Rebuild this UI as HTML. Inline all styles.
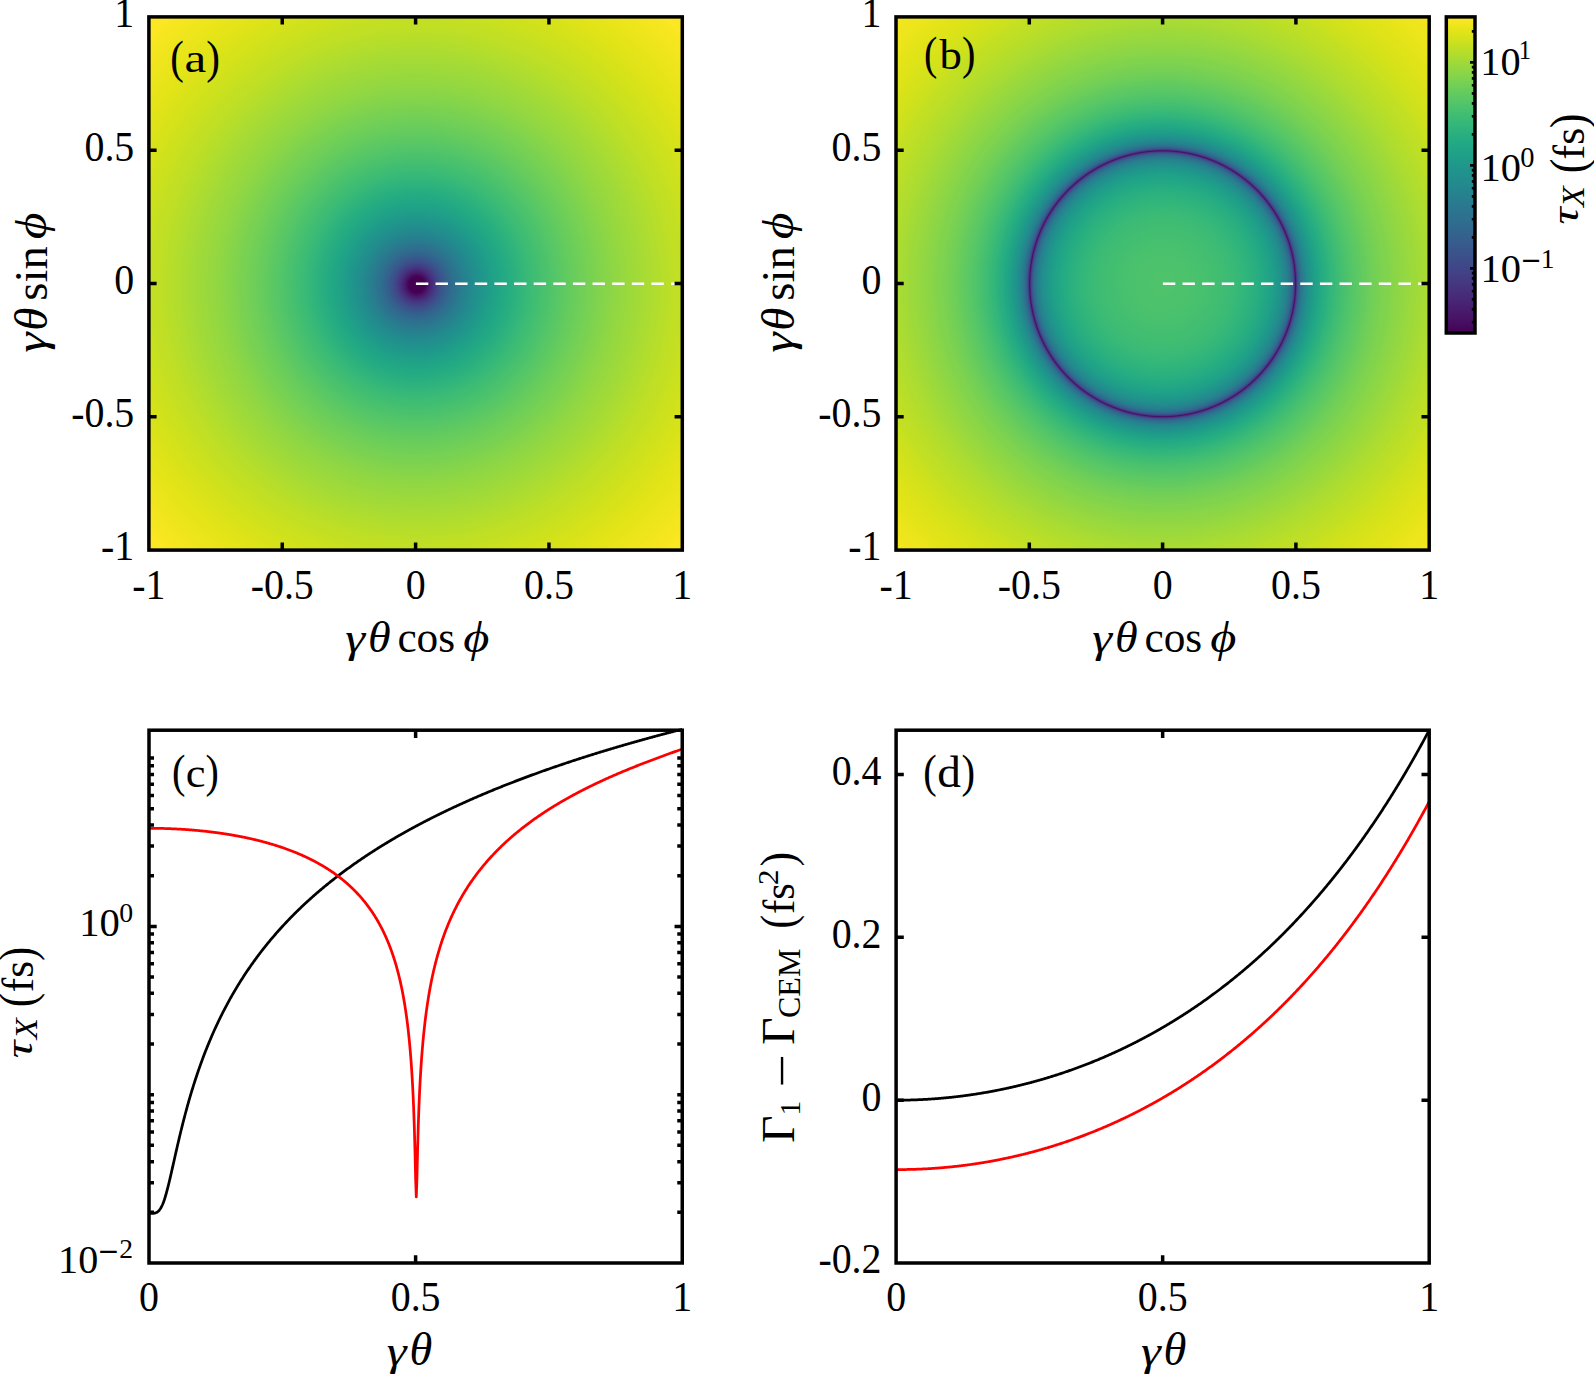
<!DOCTYPE html>
<html lang="en"><head><meta charset="utf-8"><title>Figure</title>
<style>html,body{margin:0;padding:0;background:#fff}svg{display:block}</style></head>
<body>
<svg width="1594" height="1374" viewBox="0 0 1594 1374">
<rect width="1594" height="1374" fill="#fff"/>
<defs>
<radialGradient id="ga" gradientUnits="userSpaceOnUse" cx="416.80" cy="284.70" r="386.71"><stop offset="0.00000" stop-color="#440154"/><stop offset="0.00172" stop-color="#440154"/><stop offset="0.00345" stop-color="#440154"/><stop offset="0.00517" stop-color="#440154"/><stop offset="0.00690" stop-color="#440154"/><stop offset="0.00862" stop-color="#440154"/><stop offset="0.01034" stop-color="#440154"/><stop offset="0.01207" stop-color="#440154"/><stop offset="0.01379" stop-color="#440154"/><stop offset="0.01552" stop-color="#440154"/><stop offset="0.01724" stop-color="#440154"/><stop offset="0.01897" stop-color="#440154"/><stop offset="0.02069" stop-color="#440256"/><stop offset="0.02241" stop-color="#450559"/><stop offset="0.02414" stop-color="#46085c"/><stop offset="0.02586" stop-color="#470d60"/><stop offset="0.02759" stop-color="#471164"/><stop offset="0.02931" stop-color="#481668"/><stop offset="0.03103" stop-color="#481a6c"/><stop offset="0.03276" stop-color="#481d6f"/><stop offset="0.03448" stop-color="#482173"/><stop offset="0.03621" stop-color="#482576"/><stop offset="0.03793" stop-color="#482878"/><stop offset="0.03966" stop-color="#472c7a"/><stop offset="0.04138" stop-color="#472f7d"/><stop offset="0.04310" stop-color="#46337f"/><stop offset="0.04483" stop-color="#453581"/><stop offset="0.04655" stop-color="#443983"/><stop offset="0.04828" stop-color="#443b84"/><stop offset="0.05000" stop-color="#423f85"/><stop offset="0.05172" stop-color="#424186"/><stop offset="0.05345" stop-color="#414487"/><stop offset="0.05517" stop-color="#404688"/><stop offset="0.05690" stop-color="#3e4989"/><stop offset="0.05862" stop-color="#3e4c8a"/><stop offset="0.06034" stop-color="#3d4e8a"/><stop offset="0.06207" stop-color="#3c508b"/><stop offset="0.06379" stop-color="#3b528b"/><stop offset="0.06552" stop-color="#3a548c"/><stop offset="0.06724" stop-color="#39558c"/><stop offset="0.06897" stop-color="#38588c"/><stop offset="0.07751" stop-color="#34618d"/><stop offset="0.08605" stop-color="#31688e"/><stop offset="0.09459" stop-color="#2e6f8e"/><stop offset="0.10313" stop-color="#2b748e"/><stop offset="0.11167" stop-color="#297a8e"/><stop offset="0.12022" stop-color="#277f8e"/><stop offset="0.12876" stop-color="#25838e"/><stop offset="0.13730" stop-color="#23888e"/><stop offset="0.14584" stop-color="#228c8d"/><stop offset="0.15438" stop-color="#21908d"/><stop offset="0.16292" stop-color="#20938c"/><stop offset="0.17146" stop-color="#1f978b"/><stop offset="0.18001" stop-color="#1f9a8a"/><stop offset="0.18855" stop-color="#1f9e89"/><stop offset="0.19709" stop-color="#1fa188"/><stop offset="0.20563" stop-color="#20a386"/><stop offset="0.21417" stop-color="#21a685"/><stop offset="0.22271" stop-color="#23a983"/><stop offset="0.23126" stop-color="#25ab82"/><stop offset="0.23980" stop-color="#27ad81"/><stop offset="0.24834" stop-color="#29af7f"/><stop offset="0.25688" stop-color="#2db27d"/><stop offset="0.26542" stop-color="#2fb47c"/><stop offset="0.27396" stop-color="#32b67a"/><stop offset="0.28251" stop-color="#37b878"/><stop offset="0.29105" stop-color="#3aba76"/><stop offset="0.29959" stop-color="#3dbc74"/><stop offset="0.30813" stop-color="#40bd72"/><stop offset="0.31667" stop-color="#44bf70"/><stop offset="0.32521" stop-color="#48c16e"/><stop offset="0.33376" stop-color="#4ac16d"/><stop offset="0.34230" stop-color="#4ec36b"/><stop offset="0.35084" stop-color="#52c569"/><stop offset="0.35938" stop-color="#56c667"/><stop offset="0.36792" stop-color="#58c765"/><stop offset="0.37646" stop-color="#5cc863"/><stop offset="0.38500" stop-color="#60ca60"/><stop offset="0.39355" stop-color="#63cb5f"/><stop offset="0.40209" stop-color="#67cc5c"/><stop offset="0.41063" stop-color="#69cd5b"/><stop offset="0.41917" stop-color="#6ece58"/><stop offset="0.42771" stop-color="#70cf57"/><stop offset="0.43625" stop-color="#73d056"/><stop offset="0.44480" stop-color="#77d153"/><stop offset="0.45334" stop-color="#7ad151"/><stop offset="0.46188" stop-color="#7cd250"/><stop offset="0.47042" stop-color="#81d34d"/><stop offset="0.47896" stop-color="#84d44b"/><stop offset="0.48750" stop-color="#86d549"/><stop offset="0.49605" stop-color="#89d548"/><stop offset="0.50459" stop-color="#8ed645"/><stop offset="0.51313" stop-color="#90d743"/><stop offset="0.52167" stop-color="#93d741"/><stop offset="0.53021" stop-color="#95d840"/><stop offset="0.53875" stop-color="#98d83e"/><stop offset="0.54730" stop-color="#9bd93c"/><stop offset="0.55584" stop-color="#9dd93b"/><stop offset="0.56438" stop-color="#a0da39"/><stop offset="0.57292" stop-color="#a2da37"/><stop offset="0.58146" stop-color="#a5db36"/><stop offset="0.59000" stop-color="#a8db34"/><stop offset="0.59854" stop-color="#aadc32"/><stop offset="0.60709" stop-color="#addc30"/><stop offset="0.61563" stop-color="#b0dd2f"/><stop offset="0.62417" stop-color="#b2dd2d"/><stop offset="0.63271" stop-color="#b5de2b"/><stop offset="0.64125" stop-color="#b8de29"/><stop offset="0.64979" stop-color="#bade28"/><stop offset="0.65834" stop-color="#bddf26"/><stop offset="0.66688" stop-color="#c0df25"/><stop offset="0.67542" stop-color="#c2df23"/><stop offset="0.68396" stop-color="#c2df23"/><stop offset="0.69250" stop-color="#c5e021"/><stop offset="0.70104" stop-color="#c8e020"/><stop offset="0.70959" stop-color="#cae11f"/><stop offset="0.71813" stop-color="#cde11d"/><stop offset="0.72667" stop-color="#cde11d"/><stop offset="0.73521" stop-color="#d0e11c"/><stop offset="0.74375" stop-color="#d2e21b"/><stop offset="0.75229" stop-color="#d5e21a"/><stop offset="0.76084" stop-color="#d8e219"/><stop offset="0.76938" stop-color="#d8e219"/><stop offset="0.77792" stop-color="#dae319"/><stop offset="0.78646" stop-color="#dde318"/><stop offset="0.79500" stop-color="#dfe318"/><stop offset="0.80354" stop-color="#dfe318"/><stop offset="0.81208" stop-color="#e2e418"/><stop offset="0.82063" stop-color="#e5e419"/><stop offset="0.82917" stop-color="#e5e419"/><stop offset="0.83771" stop-color="#e7e419"/><stop offset="0.84625" stop-color="#eae51a"/><stop offset="0.85479" stop-color="#eae51a"/><stop offset="0.86333" stop-color="#ece51b"/><stop offset="0.87188" stop-color="#efe51c"/><stop offset="0.88042" stop-color="#efe51c"/><stop offset="0.88896" stop-color="#f1e51d"/><stop offset="0.89750" stop-color="#f4e61e"/><stop offset="0.90604" stop-color="#f4e61e"/><stop offset="0.91458" stop-color="#f6e620"/><stop offset="0.92313" stop-color="#f6e620"/><stop offset="0.93167" stop-color="#f8e621"/><stop offset="0.94021" stop-color="#fbe723"/><stop offset="0.94875" stop-color="#fbe723"/><stop offset="0.95729" stop-color="#fde725"/><stop offset="0.96583" stop-color="#fde725"/><stop offset="0.97438" stop-color="#fde725"/><stop offset="0.98292" stop-color="#fde725"/><stop offset="0.99146" stop-color="#fde725"/><stop offset="1.00000" stop-color="#fde725"/></radialGradient>
<radialGradient id="gb" gradientUnits="userSpaceOnUse" cx="1162.60" cy="283.75" r="386.57"><stop offset="0.00000" stop-color="#4ec36b"/><stop offset="0.00951" stop-color="#4ec36b"/><stop offset="0.01902" stop-color="#4ec36b"/><stop offset="0.02854" stop-color="#4ec36b"/><stop offset="0.03805" stop-color="#4cc26c"/><stop offset="0.04756" stop-color="#4cc26c"/><stop offset="0.05707" stop-color="#4cc26c"/><stop offset="0.06659" stop-color="#4cc26c"/><stop offset="0.07610" stop-color="#4ac16d"/><stop offset="0.08561" stop-color="#4ac16d"/><stop offset="0.09512" stop-color="#48c16e"/><stop offset="0.10464" stop-color="#48c16e"/><stop offset="0.11415" stop-color="#46c06f"/><stop offset="0.12366" stop-color="#44bf70"/><stop offset="0.13317" stop-color="#42be71"/><stop offset="0.14269" stop-color="#42be71"/><stop offset="0.15220" stop-color="#40bd72"/><stop offset="0.16171" stop-color="#3fbc73"/><stop offset="0.17122" stop-color="#3bbb75"/><stop offset="0.18074" stop-color="#3aba76"/><stop offset="0.19025" stop-color="#38b977"/><stop offset="0.19976" stop-color="#35b779"/><stop offset="0.20927" stop-color="#32b67a"/><stop offset="0.21879" stop-color="#2fb47c"/><stop offset="0.22830" stop-color="#2db27d"/><stop offset="0.23781" stop-color="#2ab07f"/><stop offset="0.24732" stop-color="#27ad81"/><stop offset="0.25684" stop-color="#25ab82"/><stop offset="0.26635" stop-color="#22a785"/><stop offset="0.27586" stop-color="#20a386"/><stop offset="0.27931" stop-color="#1fa287"/><stop offset="0.28276" stop-color="#1fa188"/><stop offset="0.28621" stop-color="#1f9f88"/><stop offset="0.28966" stop-color="#1e9d89"/><stop offset="0.29310" stop-color="#1e9b8a"/><stop offset="0.29655" stop-color="#1f988b"/><stop offset="0.30000" stop-color="#1f968b"/><stop offset="0.30345" stop-color="#20938c"/><stop offset="0.30690" stop-color="#21918c"/><stop offset="0.31034" stop-color="#218e8d"/><stop offset="0.31379" stop-color="#238a8d"/><stop offset="0.31724" stop-color="#24868e"/><stop offset="0.32069" stop-color="#26828e"/><stop offset="0.32414" stop-color="#287d8e"/><stop offset="0.32483" stop-color="#297b8e"/><stop offset="0.32552" stop-color="#297a8e"/><stop offset="0.32621" stop-color="#29798e"/><stop offset="0.32690" stop-color="#2a778e"/><stop offset="0.32759" stop-color="#2a768e"/><stop offset="0.32828" stop-color="#2b748e"/><stop offset="0.32897" stop-color="#2c738e"/><stop offset="0.32966" stop-color="#2c718e"/><stop offset="0.33034" stop-color="#2d708e"/><stop offset="0.33103" stop-color="#2e6f8e"/><stop offset="0.33172" stop-color="#2e6d8e"/><stop offset="0.33241" stop-color="#2f6b8e"/><stop offset="0.33310" stop-color="#31688e"/><stop offset="0.33379" stop-color="#31668e"/><stop offset="0.33448" stop-color="#32648e"/><stop offset="0.33517" stop-color="#34618d"/><stop offset="0.33586" stop-color="#355e8d"/><stop offset="0.33655" stop-color="#375b8d"/><stop offset="0.33724" stop-color="#38588c"/><stop offset="0.33793" stop-color="#3a538b"/><stop offset="0.33862" stop-color="#3c4f8a"/><stop offset="0.33931" stop-color="#3e4989"/><stop offset="0.34000" stop-color="#414487"/><stop offset="0.34069" stop-color="#433d84"/><stop offset="0.34138" stop-color="#463480"/><stop offset="0.34207" stop-color="#472a7a"/><stop offset="0.34276" stop-color="#481f70"/><stop offset="0.34345" stop-color="#481467"/><stop offset="0.34414" stop-color="#471164"/><stop offset="0.34483" stop-color="#481a6c"/><stop offset="0.34552" stop-color="#482576"/><stop offset="0.34621" stop-color="#46307e"/><stop offset="0.34690" stop-color="#443983"/><stop offset="0.34759" stop-color="#424186"/><stop offset="0.34828" stop-color="#3f4889"/><stop offset="0.34897" stop-color="#3d4e8a"/><stop offset="0.34966" stop-color="#3b528b"/><stop offset="0.35034" stop-color="#39568c"/><stop offset="0.35103" stop-color="#375b8d"/><stop offset="0.35172" stop-color="#355e8d"/><stop offset="0.35241" stop-color="#34618d"/><stop offset="0.35310" stop-color="#32648e"/><stop offset="0.35379" stop-color="#31668e"/><stop offset="0.35448" stop-color="#30698e"/><stop offset="0.35517" stop-color="#2f6b8e"/><stop offset="0.35586" stop-color="#2e6d8e"/><stop offset="0.35655" stop-color="#2e6f8e"/><stop offset="0.35724" stop-color="#2d718e"/><stop offset="0.35793" stop-color="#2c728e"/><stop offset="0.35862" stop-color="#2b748e"/><stop offset="0.35931" stop-color="#2b758e"/><stop offset="0.36000" stop-color="#2a778e"/><stop offset="0.36069" stop-color="#29798e"/><stop offset="0.36138" stop-color="#297a8e"/><stop offset="0.36207" stop-color="#287c8e"/><stop offset="0.36276" stop-color="#287d8e"/><stop offset="0.36345" stop-color="#277e8e"/><stop offset="0.36414" stop-color="#27808e"/><stop offset="0.36483" stop-color="#26818e"/><stop offset="0.36552" stop-color="#26828e"/><stop offset="0.36897" stop-color="#24878e"/><stop offset="0.37241" stop-color="#228b8d"/><stop offset="0.37586" stop-color="#21908d"/><stop offset="0.37931" stop-color="#20938c"/><stop offset="0.38276" stop-color="#1f968b"/><stop offset="0.38621" stop-color="#1f998a"/><stop offset="0.38966" stop-color="#1e9c89"/><stop offset="0.39310" stop-color="#1f9f88"/><stop offset="0.39655" stop-color="#1fa187"/><stop offset="0.40000" stop-color="#20a386"/><stop offset="0.40345" stop-color="#21a685"/><stop offset="0.40690" stop-color="#22a884"/><stop offset="0.41034" stop-color="#24aa83"/><stop offset="0.41379" stop-color="#25ac82"/><stop offset="0.42373" stop-color="#2ab07f"/><stop offset="0.43366" stop-color="#31b57b"/><stop offset="0.44360" stop-color="#37b878"/><stop offset="0.45354" stop-color="#3dbc74"/><stop offset="0.46347" stop-color="#44bf70"/><stop offset="0.47341" stop-color="#4ac16d"/><stop offset="0.48334" stop-color="#50c46a"/><stop offset="0.49328" stop-color="#56c667"/><stop offset="0.50321" stop-color="#5ac864"/><stop offset="0.51315" stop-color="#60ca60"/><stop offset="0.52309" stop-color="#65cb5e"/><stop offset="0.53302" stop-color="#6ccd5a"/><stop offset="0.54296" stop-color="#70cf57"/><stop offset="0.55289" stop-color="#75d054"/><stop offset="0.56283" stop-color="#7ad151"/><stop offset="0.57276" stop-color="#7fd34e"/><stop offset="0.58270" stop-color="#81d34d"/><stop offset="0.59264" stop-color="#86d549"/><stop offset="0.60257" stop-color="#8bd646"/><stop offset="0.61251" stop-color="#8ed645"/><stop offset="0.62244" stop-color="#93d741"/><stop offset="0.63238" stop-color="#95d840"/><stop offset="0.64231" stop-color="#9bd93c"/><stop offset="0.65225" stop-color="#9dd93b"/><stop offset="0.66219" stop-color="#a2da37"/><stop offset="0.67212" stop-color="#a5db36"/><stop offset="0.68206" stop-color="#aadc32"/><stop offset="0.69199" stop-color="#addc30"/><stop offset="0.70193" stop-color="#b0dd2f"/><stop offset="0.71186" stop-color="#b2dd2d"/><stop offset="0.72180" stop-color="#b8de29"/><stop offset="0.73174" stop-color="#bade28"/><stop offset="0.74167" stop-color="#bddf26"/><stop offset="0.75161" stop-color="#c0df25"/><stop offset="0.76154" stop-color="#c2df23"/><stop offset="0.77148" stop-color="#c5e021"/><stop offset="0.78141" stop-color="#cae11f"/><stop offset="0.79135" stop-color="#cde11d"/><stop offset="0.80129" stop-color="#d0e11c"/><stop offset="0.81122" stop-color="#d2e21b"/><stop offset="0.82116" stop-color="#d5e21a"/><stop offset="0.83109" stop-color="#d8e219"/><stop offset="0.84103" stop-color="#dae319"/><stop offset="0.85096" stop-color="#dde318"/><stop offset="0.86090" stop-color="#dfe318"/><stop offset="0.87084" stop-color="#dfe318"/><stop offset="0.88077" stop-color="#e2e418"/><stop offset="0.89071" stop-color="#e5e419"/><stop offset="0.90064" stop-color="#e7e419"/><stop offset="0.91058" stop-color="#eae51a"/><stop offset="0.92051" stop-color="#ece51b"/><stop offset="0.93045" stop-color="#efe51c"/><stop offset="0.94039" stop-color="#efe51c"/><stop offset="0.95032" stop-color="#f1e51d"/><stop offset="0.96026" stop-color="#f4e61e"/><stop offset="0.97019" stop-color="#f6e620"/><stop offset="0.98013" stop-color="#f8e621"/><stop offset="0.99006" stop-color="#f8e621"/><stop offset="1.00000" stop-color="#fbe723"/></radialGradient>
<linearGradient id="gc" x1="0" y1="1" x2="0" y2="0"><stop offset="0.0000" stop-color="#440154"/><stop offset="0.0156" stop-color="#46075a"/><stop offset="0.0312" stop-color="#470d60"/><stop offset="0.0469" stop-color="#471365"/><stop offset="0.0625" stop-color="#48186a"/><stop offset="0.0781" stop-color="#481d6f"/><stop offset="0.0938" stop-color="#482374"/><stop offset="0.1094" stop-color="#482878"/><stop offset="0.1250" stop-color="#472d7b"/><stop offset="0.1406" stop-color="#46327e"/><stop offset="0.1562" stop-color="#453781"/><stop offset="0.1719" stop-color="#443b84"/><stop offset="0.1875" stop-color="#424086"/><stop offset="0.2031" stop-color="#404588"/><stop offset="0.2188" stop-color="#3e4989"/><stop offset="0.2344" stop-color="#3d4e8a"/><stop offset="0.2500" stop-color="#3b528b"/><stop offset="0.2656" stop-color="#39568c"/><stop offset="0.2812" stop-color="#375b8d"/><stop offset="0.2969" stop-color="#355f8d"/><stop offset="0.3125" stop-color="#33638d"/><stop offset="0.3281" stop-color="#31678e"/><stop offset="0.3438" stop-color="#2f6b8e"/><stop offset="0.3594" stop-color="#2e6f8e"/><stop offset="0.3750" stop-color="#2c728e"/><stop offset="0.3906" stop-color="#2a768e"/><stop offset="0.4062" stop-color="#297a8e"/><stop offset="0.4219" stop-color="#277e8e"/><stop offset="0.4375" stop-color="#26828e"/><stop offset="0.4531" stop-color="#25858e"/><stop offset="0.4688" stop-color="#23898e"/><stop offset="0.4844" stop-color="#228d8d"/><stop offset="0.5000" stop-color="#21918c"/><stop offset="0.5156" stop-color="#1f948c"/><stop offset="0.5312" stop-color="#1f988b"/><stop offset="0.5469" stop-color="#1e9c89"/><stop offset="0.5625" stop-color="#1fa088"/><stop offset="0.5781" stop-color="#20a386"/><stop offset="0.5938" stop-color="#22a785"/><stop offset="0.6094" stop-color="#25ab82"/><stop offset="0.6250" stop-color="#28ae80"/><stop offset="0.6406" stop-color="#2db27d"/><stop offset="0.6562" stop-color="#32b67a"/><stop offset="0.6719" stop-color="#38b977"/><stop offset="0.6875" stop-color="#3fbc73"/><stop offset="0.7031" stop-color="#46c06f"/><stop offset="0.7188" stop-color="#4ec36b"/><stop offset="0.7344" stop-color="#56c667"/><stop offset="0.7500" stop-color="#5ec962"/><stop offset="0.7656" stop-color="#67cc5c"/><stop offset="0.7812" stop-color="#70cf57"/><stop offset="0.7969" stop-color="#7ad151"/><stop offset="0.8125" stop-color="#84d44b"/><stop offset="0.8281" stop-color="#8ed645"/><stop offset="0.8438" stop-color="#98d83e"/><stop offset="0.8594" stop-color="#a2da37"/><stop offset="0.8750" stop-color="#addc30"/><stop offset="0.8906" stop-color="#b8de29"/><stop offset="0.9062" stop-color="#c2df23"/><stop offset="0.9219" stop-color="#cde11d"/><stop offset="0.9375" stop-color="#d8e219"/><stop offset="0.9531" stop-color="#e2e418"/><stop offset="0.9688" stop-color="#ece51b"/><stop offset="0.9844" stop-color="#f6e620"/><stop offset="1.0000" stop-color="#fde725"/></linearGradient>
</defs>
<rect x="148.9" y="16.9" width="533.40" height="533.20" fill="url(#ga)"/>
<path d="M415.90 283.70H682.3" stroke="#fff" stroke-width="2.5" stroke-dasharray="12.4 7.23" fill="none"/>
<rect x="148.9" y="16.9" width="533.40" height="533.20" fill="none" stroke="#000" stroke-width="3.5"/>
<path d="M282.25 550.1v-7.7M282.25 16.9v7.7M415.60 550.1v-7.7M415.60 16.9v7.7M548.95 550.1v-7.7M548.95 16.9v7.7" stroke="#000" stroke-width="3.5" fill="none"/>
<path d="M148.9 150.20h7.7M682.3 150.20h-7.7M148.9 283.50h7.7M682.3 283.50h-7.7M148.9 416.80h7.7M682.3 416.80h-7.7" stroke="#000" stroke-width="3.5" fill="none"/>
<text transform="translate(148.90 598.50) scale(0.963 1)" font-size="41.4" text-anchor="middle" font-family="Liberation Serif, serif" >-1</text>
<text transform="translate(282.25 598.50) scale(0.963 1)" font-size="41.4" text-anchor="middle" font-family="Liberation Serif, serif" >-0.5</text>
<text transform="translate(415.60 598.50) scale(0.963 1)" font-size="41.4" text-anchor="middle" font-family="Liberation Serif, serif" >0</text>
<text transform="translate(548.95 598.50) scale(0.963 1)" font-size="41.4" text-anchor="middle" font-family="Liberation Serif, serif" >0.5</text>
<text transform="translate(682.30 598.50) scale(0.963 1)" font-size="41.4" text-anchor="middle" font-family="Liberation Serif, serif" >1</text>
<text transform="translate(134.30 27.20) scale(0.963 1)" font-size="41.4" text-anchor="end" font-family="Liberation Serif, serif" >1</text>
<text transform="translate(134.30 160.50) scale(0.963 1)" font-size="41.4" text-anchor="end" font-family="Liberation Serif, serif" >0.5</text>
<text transform="translate(134.30 293.80) scale(0.963 1)" font-size="41.4" text-anchor="end" font-family="Liberation Serif, serif" >0</text>
<text transform="translate(134.30 427.10) scale(0.963 1)" font-size="41.4" text-anchor="end" font-family="Liberation Serif, serif" >-0.5</text>
<text transform="translate(134.30 560.40) scale(0.963 1)" font-size="41.4" text-anchor="end" font-family="Liberation Serif, serif" >-1</text>
<text transform="translate(345.16 651.87) scale(1.1700 1)" font-size="42.97" font-style="italic" font-family="Liberation Serif, serif">γ</text>
<text transform="translate(368.01 652.05) scale(1.0378 1)" font-size="44.51" font-style="italic" font-family="Liberation Serif, serif">θ</text>
<text transform="translate(397.38 652.06) scale(0.9905 1)" font-size="43.75" font-family="Liberation Serif, serif">cos</text>
<text transform="translate(463.17 651.61) scale(1.1399 1)" font-size="44.19" font-style="italic" font-family="Liberation Serif, serif">ϕ</text>
<text transform="translate(46.32 352.79) rotate(-90) scale(1.1700 1)" font-size="44.16" font-style="italic" font-family="Liberation Serif, serif">γ</text>
<text transform="translate(46.84 330.74) rotate(-90) scale(1.0331 1)" font-size="45.63" font-style="italic" font-family="Liberation Serif, serif">θ</text>
<text transform="translate(46.74 300.67) rotate(-90) scale(1.0253 1)" font-size="45.50" font-family="Liberation Serif, serif">sin</text>
<text transform="translate(46.29 239.37) rotate(-90) scale(1.1705 1)" font-size="44.30" font-style="italic" font-family="Liberation Serif, serif">ϕ</text>
<rect x="896.0" y="16.9" width="533.20" height="533.20" fill="url(#gb)"/>
<path d="M1162.90 283.70H1429.2" stroke="#fff" stroke-width="2.5" stroke-dasharray="12.4 7.23" fill="none"/>
<rect x="896.0" y="16.9" width="533.20" height="533.20" fill="none" stroke="#000" stroke-width="3.5"/>
<path d="M1029.30 550.1v-7.7M1029.30 16.9v7.7M1162.60 550.1v-7.7M1162.60 16.9v7.7M1295.90 550.1v-7.7M1295.90 16.9v7.7" stroke="#000" stroke-width="3.5" fill="none"/>
<path d="M896.0 150.20h7.7M1429.2 150.20h-7.7M896.0 283.50h7.7M1429.2 283.50h-7.7M896.0 416.80h7.7M1429.2 416.80h-7.7" stroke="#000" stroke-width="3.5" fill="none"/>
<text transform="translate(896.00 598.50) scale(0.963 1)" font-size="41.4" text-anchor="middle" font-family="Liberation Serif, serif" >-1</text>
<text transform="translate(1029.30 598.50) scale(0.963 1)" font-size="41.4" text-anchor="middle" font-family="Liberation Serif, serif" >-0.5</text>
<text transform="translate(1162.60 598.50) scale(0.963 1)" font-size="41.4" text-anchor="middle" font-family="Liberation Serif, serif" >0</text>
<text transform="translate(1295.90 598.50) scale(0.963 1)" font-size="41.4" text-anchor="middle" font-family="Liberation Serif, serif" >0.5</text>
<text transform="translate(1429.20 598.50) scale(0.963 1)" font-size="41.4" text-anchor="middle" font-family="Liberation Serif, serif" >1</text>
<text transform="translate(881.40 27.20) scale(0.963 1)" font-size="41.4" text-anchor="end" font-family="Liberation Serif, serif" >1</text>
<text transform="translate(881.40 160.50) scale(0.963 1)" font-size="41.4" text-anchor="end" font-family="Liberation Serif, serif" >0.5</text>
<text transform="translate(881.40 293.80) scale(0.963 1)" font-size="41.4" text-anchor="end" font-family="Liberation Serif, serif" >0</text>
<text transform="translate(881.40 427.10) scale(0.963 1)" font-size="41.4" text-anchor="end" font-family="Liberation Serif, serif" >-0.5</text>
<text transform="translate(881.40 560.40) scale(0.963 1)" font-size="41.4" text-anchor="end" font-family="Liberation Serif, serif" >-1</text>
<text transform="translate(1092.26 651.87) scale(1.1700 1)" font-size="42.97" font-style="italic" font-family="Liberation Serif, serif">γ</text>
<text transform="translate(1115.11 652.05) scale(1.0378 1)" font-size="44.51" font-style="italic" font-family="Liberation Serif, serif">θ</text>
<text transform="translate(1144.47 652.06) scale(0.9905 1)" font-size="43.75" font-family="Liberation Serif, serif">cos</text>
<text transform="translate(1210.27 651.61) scale(1.1399 1)" font-size="44.19" font-style="italic" font-family="Liberation Serif, serif">ϕ</text>
<text transform="translate(793.42 352.79) rotate(-90) scale(1.1700 1)" font-size="44.16" font-style="italic" font-family="Liberation Serif, serif">γ</text>
<text transform="translate(793.94 330.74) rotate(-90) scale(1.0331 1)" font-size="45.63" font-style="italic" font-family="Liberation Serif, serif">θ</text>
<text transform="translate(793.84 300.67) rotate(-90) scale(1.0253 1)" font-size="45.50" font-family="Liberation Serif, serif">sin</text>
<text transform="translate(793.39 239.37) rotate(-90) scale(1.1705 1)" font-size="44.30" font-style="italic" font-family="Liberation Serif, serif">ϕ</text>
<text transform="translate(170.27 72.92) scale(0.8769 1)" font-size="46.50" font-family="Liberation Serif, serif">(</text>
<text transform="translate(184.49 72.40) scale(1.2089 1)" font-size="40.42" font-family="Liberation Serif, serif">a</text>
<text transform="translate(206.16 72.92) scale(0.8852 1)" font-size="46.50" font-family="Liberation Serif, serif">)</text>
<text transform="translate(924.00 68.87) scale(0.8643 1)" font-size="46.28" font-family="Liberation Serif, serif">(</text>
<text transform="translate(939.50 68.57) scale(1.0483 1)" font-size="42.70" font-family="Liberation Serif, serif">b</text>
<text transform="translate(961.89 68.87) scale(0.8727 1)" font-size="46.28" font-family="Liberation Serif, serif">)</text>
<text transform="translate(171.98 787.32) scale(0.8685 1)" font-size="46.50" font-family="Liberation Serif, serif">(</text>
<text transform="translate(185.63 787.19) scale(1.0742 1)" font-size="41.46" font-family="Liberation Serif, serif">c</text>
<text transform="translate(205.60 787.32) scale(0.8602 1)" font-size="46.50" font-family="Liberation Serif, serif">)</text>
<text transform="translate(923.28 786.57) scale(0.8644 1)" font-size="46.72" font-family="Liberation Serif, serif">(</text>
<text transform="translate(937.14 786.57) scale(1.0932 1)" font-size="43.26" font-family="Liberation Serif, serif">d</text>
<text transform="translate(961.47 786.57) scale(0.8728 1)" font-size="46.72" font-family="Liberation Serif, serif">)</text>
<rect x="1446.3" y="16.9" width="28.70" height="316.10" fill="url(#gc)"/>
<path d="M1475.0 322.26h-3.2M1475.0 309.39h-3.2M1475.0 299.41h-3.2M1475.0 291.25h-3.2M1475.0 284.35h-3.2M1475.0 278.38h-3.2M1475.0 273.11h-3.2M1475.0 268.40h-5.0M1475.0 237.39h-3.2M1475.0 219.26h-3.2M1475.0 206.39h-3.2M1475.0 196.41h-3.2M1475.0 188.25h-3.2M1475.0 181.35h-3.2M1475.0 175.38h-3.2M1475.0 170.11h-3.2M1475.0 165.40h-5.0M1475.0 134.39h-3.2M1475.0 116.26h-3.2M1475.0 103.39h-3.2M1475.0 93.41h-3.2M1475.0 85.25h-3.2M1475.0 78.35h-3.2M1475.0 72.38h-3.2M1475.0 67.11h-3.2M1475.0 62.40h-5.0M1475.0 31.39h-3.2" stroke="#000" stroke-width="2.6" fill="none"/>
<rect x="1446.3" y="16.9" width="28.70" height="316.10" fill="none" stroke="#000" stroke-width="3.5"/>
<text transform="translate(1480.37 75.10) scale(1.0199 1)" font-size="39.56" font-family="Liberation Serif, serif">10</text>
<text transform="translate(1518.74 59.00) scale(0.9203 1)" font-size="26.82" font-family="Liberation Serif, serif">1</text>
<text transform="translate(1480.46 181.20) scale(1.0077 1)" font-size="40.15" font-family="Liberation Serif, serif">10</text>
<text transform="translate(1520.23 167.02) scale(1.0009 1)" font-size="28.44" font-family="Liberation Serif, serif">0</text>
<text transform="translate(1480.45 281.80) scale(1.0143 1)" font-size="40.00" font-family="Liberation Serif, serif">10</text>
<text transform="translate(1521.38 275.99) scale(0.7480 1)" font-size="46.00" font-family="Liberation Serif, serif">−</text>
<text transform="translate(1540.79 267.60) scale(1.0378 1)" font-size="26.52" font-family="Liberation Serif, serif">1</text>
<text transform="translate(1578.42 224.46) rotate(-90) scale(1.2700 1)" font-size="37.87" font-style="italic" font-family="Liberation Serif, serif">τ</text>
<text transform="translate(1583.90 206.90) rotate(-90) scale(1.0893 1)" font-size="31.15" font-style="italic" font-family="Liberation Serif, serif">X</text>
<text transform="translate(1584.88 173.18) rotate(-90) scale(0.8772 1)" font-size="50.47" font-family="Liberation Serif, serif">(</text>
<text transform="translate(1583.75 159.41) rotate(-90) scale(0.9636 1)" font-size="45.31" font-family="Liberation Serif, serif">fs</text>
<text transform="translate(1584.88 128.14) rotate(-90) scale(0.8772 1)" font-size="50.47" font-family="Liberation Serif, serif">)</text>
<clipPath id="cc"><rect x="149.0" y="728.2" width="533.25" height="534.80"/></clipPath>
<g clip-path="url(#cc)" fill="none" stroke-width="2.75" stroke-linejoin="round">
<path d="M149.00 1213.44L149.67 1213.44L150.33 1213.44L151.00 1213.44L151.67 1213.43L152.33 1213.41L153.00 1213.37L153.67 1213.30L154.33 1213.20L155.00 1213.06L155.67 1212.85L156.33 1212.58L157.00 1212.23L157.67 1211.79L158.33 1211.23L159.00 1210.56L159.66 1209.75L160.33 1208.80L161.00 1207.70L161.66 1206.44L162.33 1205.01L163.00 1203.42L163.66 1201.68L164.33 1199.77L165.00 1197.71L165.66 1195.51L166.33 1193.18L167.00 1190.73L167.66 1188.17L168.33 1185.52L169.00 1182.79L169.66 1179.99L170.33 1177.14L171.00 1174.25L171.66 1171.32L172.33 1168.37L173.00 1165.40L173.66 1162.43L174.33 1159.46L175.00 1156.50L175.66 1153.54L176.33 1150.61L177.00 1147.69L177.66 1144.80L178.33 1141.94L179.00 1139.10L179.66 1136.29L180.33 1133.51L181.00 1130.77L181.66 1128.06L182.33 1125.38L182.99 1122.74L183.66 1120.13L184.33 1117.56L184.99 1115.02L185.66 1112.51L186.33 1110.04L186.99 1107.60L187.66 1105.20L188.33 1102.82L188.99 1100.48L189.66 1098.17L190.33 1095.90L190.99 1093.65L191.66 1091.43L192.33 1089.25L192.99 1087.09L193.66 1084.96L194.33 1082.86L194.99 1080.78L195.66 1078.73L196.33 1076.71L196.99 1074.72L197.66 1072.74L198.33 1070.80L198.99 1068.88L199.66 1066.98L200.33 1065.10L200.99 1063.25L201.66 1061.42L202.32 1059.61L202.99 1057.82L203.66 1056.05L204.32 1054.31L204.99 1052.58L205.66 1050.87L206.32 1049.18L206.99 1047.51L207.66 1045.86L208.32 1044.23L208.99 1042.61L209.66 1041.01L210.32 1039.43L210.99 1037.87L211.66 1036.32L212.32 1034.78L212.99 1033.27L213.66 1031.76L214.32 1030.28L214.99 1028.80L215.66 1027.35L216.32 1025.90L216.99 1024.47L217.66 1023.06L218.32 1021.65L218.99 1020.26L219.66 1018.89L220.32 1017.52L220.99 1016.17L221.66 1014.83L222.32 1013.51L222.99 1012.19L223.66 1010.89L224.32 1009.60L224.99 1008.31L225.65 1007.04L226.32 1005.79L226.99 1004.54L227.65 1003.30L228.32 1002.07L228.99 1000.85L229.65 999.65L230.32 998.45L230.99 997.26L231.65 996.08L232.32 994.92L232.99 993.76L233.65 992.61L234.32 991.46L234.99 990.33L235.65 989.21L236.32 988.09L236.99 986.99L237.65 985.89L238.32 984.80L238.99 983.72L239.65 982.64L240.32 981.58L240.99 980.52L241.65 979.47L242.32 978.42L242.99 977.39L243.65 976.36L244.32 975.34L244.99 974.32L245.65 973.31L246.32 972.31L246.98 971.32L247.65 970.33L248.32 969.35L248.98 968.38L249.65 967.41L250.32 966.45L250.98 965.50L251.65 964.55L252.32 963.61L252.98 962.67L253.65 961.74L254.32 960.82L254.98 959.90L255.65 958.99L256.32 958.08L256.98 957.18L257.65 956.28L258.32 955.39L258.98 954.51L259.65 953.63L260.32 952.76L260.98 951.89L261.65 951.02L262.32 950.16L262.98 949.31L263.65 948.46L264.32 947.62L264.98 946.78L265.65 945.95L266.31 945.12L266.98 944.29L267.65 943.47L268.31 942.66L268.98 941.85L269.65 941.04L270.31 940.24L270.98 939.44L271.65 938.65L272.31 937.86L272.98 937.08L273.65 936.30L274.31 935.52L274.98 934.75L275.65 933.99L276.31 933.22L276.98 932.46L277.65 931.71L278.31 930.96L278.98 930.21L279.65 929.47L280.31 928.73L280.98 927.99L281.65 927.26L282.31 926.53L282.98 925.81L283.65 925.08L284.31 924.37L284.98 923.65L285.65 922.94L286.31 922.23L286.98 921.53L287.64 920.83L288.31 920.13L288.98 919.44L289.64 918.75L290.31 918.06L290.98 917.38L291.64 916.70L292.31 916.02L292.98 915.35L293.64 914.68L294.31 914.01L294.98 913.35L295.64 912.68L296.31 912.03L296.98 911.37L297.64 910.72L298.31 910.07L298.98 909.42L299.64 908.78L300.31 908.14L300.98 907.50L301.64 906.86L302.31 906.23L302.98 905.60L303.64 904.98L304.31 904.35L304.98 903.73L305.64 903.11L306.31 902.50L306.98 901.88L307.64 901.27L308.31 900.66L308.98 900.06L309.64 899.46L310.31 898.86L310.97 898.26L311.64 897.66L312.31 897.07L312.97 896.48L313.64 895.89L314.31 895.30L314.97 894.72L315.64 894.14L316.31 893.56L316.97 892.99L317.64 892.41L318.31 891.84L318.97 891.27L319.64 890.70L320.31 890.14L320.97 889.58L321.64 889.02L322.31 888.46L322.97 887.90L323.64 887.35L324.31 886.80L324.97 886.25L325.64 885.70L326.31 885.15L326.97 884.61L327.64 884.07L328.31 883.53L328.97 882.99L329.64 882.46L330.31 881.93L330.97 881.39L331.64 880.87L332.30 880.34L332.97 879.81L333.64 879.29L334.30 878.77L334.97 878.25L335.64 877.73L336.30 877.22L336.97 876.70L337.64 876.19L338.30 875.68L338.97 875.17L339.64 874.67L340.30 874.16L340.97 873.66L341.64 873.16L342.30 872.66L342.97 872.16L343.64 871.66L344.30 871.17L344.97 870.68L345.64 870.19L346.30 869.70L346.97 869.21L347.64 868.73L348.30 868.24L348.97 867.76L349.64 867.28L350.30 866.80L350.97 866.32L351.63 865.85L352.30 865.37L352.97 864.90L353.63 864.43L354.30 863.96L354.97 863.49L355.63 863.03L356.30 862.56L356.97 862.10L357.63 861.64L358.30 861.18L358.97 860.72L359.63 860.26L360.30 859.81L360.97 859.35L361.63 858.90L362.30 858.45L362.97 858.00L363.63 857.55L364.30 857.10L364.97 856.66L365.63 856.21L366.30 855.77L366.97 855.33L367.63 854.89L368.30 854.45L368.97 854.01L369.63 853.58L370.30 853.14L370.97 852.71L371.63 852.28L372.30 851.85L372.97 851.42L373.63 850.99L374.30 850.56L374.96 850.14L375.63 849.71L376.30 849.29L376.96 848.87L377.63 848.45L378.30 848.03L378.96 847.61L379.63 847.20L380.30 846.78L380.96 846.37L381.63 845.95L382.30 845.54L382.96 845.13L383.63 844.72L384.30 844.31L384.96 843.91L385.63 843.50L386.30 843.10L386.96 842.70L387.63 842.29L388.30 841.89L388.96 841.49L389.63 841.09L390.30 840.70L390.96 840.30L391.63 839.91L392.30 839.51L392.96 839.12L393.63 838.73L394.30 838.34L394.96 837.95L395.63 837.56L396.29 837.17L396.96 836.78L397.63 836.40L398.29 836.01L398.96 835.63L399.63 835.25L400.29 834.87L400.96 834.49L401.63 834.11L402.29 833.73L402.96 833.35L403.63 832.98L404.29 832.60L404.96 832.23L405.63 831.86L406.29 831.49L406.96 831.11L407.63 830.74L408.29 830.38L408.96 830.01L409.63 829.64L410.29 829.27L410.96 828.91L411.63 828.55L412.29 828.18L412.96 827.82L413.63 827.46L414.29 827.10L414.96 826.74L415.62 826.38L416.29 826.02L416.96 825.67L417.62 825.31L418.29 824.96L418.96 824.60L419.62 824.25L420.29 823.90L420.96 823.55L421.62 823.20L422.29 822.85L422.96 822.50L423.62 822.15L424.29 821.81L424.96 821.46L425.62 821.12L426.29 820.77L426.96 820.43L427.62 820.09L428.29 819.75L428.96 819.41L429.62 819.07L430.29 818.73L430.96 818.39L431.62 818.05L432.29 817.72L432.96 817.38L433.62 817.05L434.29 816.71L434.96 816.38L435.62 816.05L436.29 815.71L436.96 815.38L437.62 815.05L438.29 814.73L438.95 814.40L439.62 814.07L440.29 813.74L440.95 813.42L441.62 813.09L442.29 812.77L442.95 812.44L443.62 812.12L444.29 811.80L444.95 811.48L445.62 811.16L446.29 810.84L446.95 810.52L447.62 810.20L448.29 809.88L448.95 809.57L449.62 809.25L450.29 808.93L450.95 808.62L451.62 808.31L452.29 807.99L452.95 807.68L453.62 807.37L454.29 807.06L454.95 806.75L455.62 806.44L456.29 806.13L456.95 805.82L457.62 805.51L458.28 805.21L458.95 804.90L459.62 804.60L460.28 804.29L460.95 803.99L461.62 803.68L462.28 803.38L462.95 803.08L463.62 802.78L464.28 802.48L464.95 802.18L465.62 801.88L466.28 801.58L466.95 801.28L467.62 800.98L468.28 800.69L468.95 800.39L469.62 800.10L470.28 799.80L470.95 799.51L471.62 799.21L472.28 798.92L472.95 798.63L473.62 798.34L474.28 798.05L474.95 797.76L475.62 797.47L476.28 797.18L476.95 796.89L477.62 796.60L478.28 796.32L478.95 796.03L479.62 795.74L480.28 795.46L480.95 795.17L481.61 794.89L482.28 794.61L482.95 794.32L483.61 794.04L484.28 793.76L484.95 793.48L485.61 793.20L486.28 792.92L486.95 792.64L487.61 792.36L488.28 792.08L488.95 791.80L489.61 791.53L490.28 791.25L490.95 790.97L491.61 790.70L492.28 790.42L492.95 790.15L493.61 789.88L494.28 789.60L494.95 789.33L495.61 789.06L496.28 788.79L496.95 788.52L497.61 788.25L498.28 787.98L498.95 787.71L499.61 787.44L500.28 787.17L500.94 786.90L501.61 786.64L502.28 786.37L502.94 786.10L503.61 785.84L504.28 785.57L504.94 785.31L505.61 785.05L506.28 784.78L506.94 784.52L507.61 784.26L508.28 784.00L508.94 783.74L509.61 783.47L510.28 783.21L510.94 782.95L511.61 782.70L512.28 782.44L512.94 782.18L513.61 781.92L514.28 781.66L514.94 781.41L515.61 781.15L516.28 780.90L516.94 780.64L517.61 780.39L518.28 780.13L518.94 779.88L519.61 779.63L520.28 779.37L520.94 779.12L521.61 778.87L522.28 778.62L522.94 778.37L523.61 778.12L524.27 777.87L524.94 777.62L525.61 777.37L526.27 777.12L526.94 776.87L527.61 776.63L528.27 776.38L528.94 776.13L529.61 775.89L530.27 775.64L530.94 775.39L531.61 775.15L532.27 774.91L532.94 774.66L533.61 774.42L534.27 774.18L534.94 773.93L535.61 773.69L536.27 773.45L536.94 773.21L537.61 772.97L538.27 772.73L538.94 772.49L539.61 772.25L540.27 772.01L540.94 771.77L541.61 771.53L542.27 771.30L542.94 771.06L543.61 770.82L544.27 770.59L544.94 770.35L545.60 770.12L546.27 769.88L546.94 769.65L547.60 769.41L548.27 769.18L548.94 768.95L549.60 768.71L550.27 768.48L550.94 768.25L551.60 768.02L552.27 767.79L552.94 767.55L553.60 767.32L554.27 767.09L554.94 766.86L555.60 766.64L556.27 766.41L556.94 766.18L557.60 765.95L558.27 765.72L558.94 765.50L559.60 765.27L560.27 765.04L560.94 764.82L561.60 764.59L562.27 764.37L562.94 764.14L563.60 763.92L564.27 763.69L564.93 763.47L565.60 763.25L566.27 763.02L566.93 762.80L567.60 762.58L568.27 762.36L568.93 762.14L569.60 761.92L570.27 761.69L570.93 761.47L571.60 761.25L572.27 761.04L572.93 760.82L573.60 760.60L574.27 760.38L574.93 760.16L575.60 759.94L576.27 759.73L576.93 759.51L577.60 759.29L578.27 759.08L578.93 758.86L579.60 758.65L580.27 758.43L580.93 758.22L581.60 758.00L582.27 757.79L582.93 757.58L583.60 757.36L584.27 757.15L584.93 756.94L585.60 756.72L586.27 756.51L586.93 756.30L587.60 756.09L588.26 755.88L588.93 755.67L589.60 755.46L590.26 755.25L590.93 755.04L591.60 754.83L592.26 754.62L592.93 754.41L593.60 754.21L594.26 754.00L594.93 753.79L595.60 753.58L596.26 753.38L596.93 753.17L597.60 752.97L598.26 752.76L598.93 752.55L599.60 752.35L600.26 752.14L600.93 751.94L601.60 751.74L602.26 751.53L602.93 751.33L603.60 751.13L604.26 750.92L604.93 750.72L605.60 750.52L606.26 750.32L606.93 750.12L607.60 749.92L608.26 749.71L608.93 749.51L609.59 749.31L610.26 749.11L610.93 748.91L611.59 748.72L612.26 748.52L612.93 748.32L613.59 748.12L614.26 747.92L614.93 747.72L615.59 747.53L616.26 747.33L616.93 747.13L617.59 746.94L618.26 746.74L618.93 746.55L619.59 746.35L620.26 746.15L620.93 745.96L621.59 745.76L622.26 745.57L622.93 745.38L623.59 745.18L624.26 744.99L624.93 744.80L625.59 744.60L626.26 744.41L626.93 744.22L627.59 744.03L628.26 743.84L628.92 743.64L629.59 743.45L630.26 743.26L630.92 743.07L631.59 742.88L632.26 742.69L632.92 742.50L633.59 742.31L634.26 742.12L634.92 741.94L635.59 741.75L636.26 741.56L636.92 741.37L637.59 741.18L638.26 741.00L638.92 740.81L639.59 740.62L640.26 740.44L640.92 740.25L641.59 740.06L642.26 739.88L642.92 739.69L643.59 739.51L644.26 739.32L644.92 739.14L645.59 738.95L646.26 738.77L646.92 738.59L647.59 738.40L648.26 738.22L648.92 738.04L649.59 737.85L650.26 737.67L650.92 737.49L651.59 737.31L652.25 737.13L652.92 736.94L653.59 736.76L654.25 736.58L654.92 736.40L655.59 736.22L656.25 736.04L656.92 735.86L657.59 735.68L658.25 735.50L658.92 735.32L659.59 735.14L660.25 734.97L660.92 734.79L661.59 734.61L662.25 734.43L662.92 734.25L663.59 734.08L664.25 733.90L664.92 733.72L665.59 733.55L666.25 733.37L666.92 733.19L667.59 733.02L668.25 732.84L668.92 732.67L669.59 732.49L670.25 732.32L670.92 732.14L671.59 731.97L672.25 731.80L672.92 731.62L673.58 731.45L674.25 731.28L674.92 731.10L675.58 730.93L676.25 730.76L676.92 730.58L677.58 730.41L678.25 730.24L678.92 730.07L679.58 729.90L680.25 729.73L680.92 729.56L681.58 729.38L682.25 729.21" stroke="#000"/>
<path d="M149.00 828.29L149.67 828.29L150.33 828.29L151.00 828.29L151.67 828.29L152.33 828.30L153.00 828.30L153.67 828.31L154.33 828.31L155.00 828.32L155.67 828.33L156.33 828.34L157.00 828.35L157.67 828.36L158.33 828.37L159.00 828.38L159.66 828.39L160.33 828.40L161.00 828.42L161.66 828.43L162.33 828.45L163.00 828.47L163.66 828.48L164.33 828.50L165.00 828.52L165.66 828.54L166.33 828.56L167.00 828.58L167.66 828.61L168.33 828.63L169.00 828.66L169.66 828.68L170.33 828.71L171.00 828.73L171.66 828.76L172.33 828.79L173.00 828.82L173.66 828.85L174.33 828.88L175.00 828.91L175.66 828.94L176.33 828.98L177.00 829.01L177.66 829.05L178.33 829.08L179.00 829.12L179.66 829.16L180.33 829.20L181.00 829.23L181.66 829.27L182.33 829.32L182.99 829.36L183.66 829.40L184.33 829.44L184.99 829.49L185.66 829.53L186.33 829.58L186.99 829.63L187.66 829.68L188.33 829.73L188.99 829.78L189.66 829.83L190.33 829.88L190.99 829.93L191.66 829.98L192.33 830.04L192.99 830.09L193.66 830.15L194.33 830.21L194.99 830.26L195.66 830.32L196.33 830.38L196.99 830.44L197.66 830.50L198.33 830.57L198.99 830.63L199.66 830.70L200.33 830.76L200.99 830.83L201.66 830.89L202.32 830.96L202.99 831.03L203.66 831.10L204.32 831.17L204.99 831.24L205.66 831.32L206.32 831.39L206.99 831.47L207.66 831.54L208.32 831.62L208.99 831.70L209.66 831.77L210.32 831.85L210.99 831.93L211.66 832.02L212.32 832.10L212.99 832.18L213.66 832.27L214.32 832.35L214.99 832.44L215.66 832.53L216.32 832.62L216.99 832.71L217.66 832.80L218.32 832.89L218.99 832.98L219.66 833.07L220.32 833.17L220.99 833.27L221.66 833.36L222.32 833.46L222.99 833.56L223.66 833.66L224.32 833.76L224.99 833.86L225.65 833.97L226.32 834.07L226.99 834.18L227.65 834.28L228.32 834.39L228.99 834.50L229.65 834.61L230.32 834.72L230.99 834.84L231.65 834.95L232.32 835.06L232.99 835.18L233.65 835.30L234.32 835.42L234.99 835.53L235.65 835.66L236.32 835.78L236.99 835.90L237.65 836.02L238.32 836.15L238.99 836.28L239.65 836.40L240.32 836.53L240.99 836.66L241.65 836.80L242.32 836.93L242.99 837.06L243.65 837.20L244.32 837.33L244.99 837.47L245.65 837.61L246.32 837.75L246.98 837.89L247.65 838.04L248.32 838.18L248.98 838.33L249.65 838.48L250.32 838.62L250.98 838.77L251.65 838.92L252.32 839.08L252.98 839.23L253.65 839.39L254.32 839.54L254.98 839.70L255.65 839.86L256.32 840.02L256.98 840.19L257.65 840.35L258.32 840.52L258.98 840.68L259.65 840.85L260.32 841.02L260.98 841.19L261.65 841.37L262.32 841.54L262.98 841.72L263.65 841.89L264.32 842.07L264.98 842.25L265.65 842.44L266.31 842.62L266.98 842.81L267.65 842.99L268.31 843.18L268.98 843.37L269.65 843.57L270.31 843.76L270.98 843.96L271.65 844.15L272.31 844.35L272.98 844.55L273.65 844.76L274.31 844.96L274.98 845.17L275.65 845.38L276.31 845.59L276.98 845.80L277.65 846.01L278.31 846.23L278.98 846.44L279.65 846.66L280.31 846.88L280.98 847.11L281.65 847.33L282.31 847.56L282.98 847.79L283.65 848.02L284.31 848.25L284.98 848.49L285.65 848.72L286.31 848.96L286.98 849.20L287.64 849.45L288.31 849.69L288.98 849.94L289.64 850.19L290.31 850.44L290.98 850.70L291.64 850.95L292.31 851.21L292.98 851.47L293.64 851.74L294.31 852.00L294.98 852.27L295.64 852.54L296.31 852.81L296.98 853.09L297.64 853.37L298.31 853.65L298.98 853.93L299.64 854.21L300.31 854.50L300.98 854.79L301.64 855.09L302.31 855.38L302.98 855.68L303.64 855.98L304.31 856.28L304.98 856.59L305.64 856.90L306.31 857.21L306.98 857.53L307.64 857.85L308.31 858.17L308.98 858.49L309.64 858.82L310.31 859.15L310.97 859.48L311.64 859.82L312.31 860.16L312.97 860.50L313.64 860.84L314.31 861.19L314.97 861.54L315.64 861.90L316.31 862.26L316.97 862.62L317.64 862.99L318.31 863.36L318.97 863.73L319.64 864.10L320.31 864.48L320.97 864.87L321.64 865.26L322.31 865.65L322.97 866.04L323.64 866.44L324.31 866.84L324.97 867.25L325.64 867.66L326.31 868.08L326.97 868.50L327.64 868.92L328.31 869.35L328.97 869.78L329.64 870.22L330.31 870.66L330.97 871.11L331.64 871.56L332.30 872.01L332.97 872.47L333.64 872.94L334.30 873.41L334.97 873.88L335.64 874.36L336.30 874.85L336.97 875.34L337.64 875.83L338.30 876.33L338.97 876.84L339.64 877.35L340.30 877.87L340.97 878.39L341.64 878.92L342.30 879.46L342.97 880.00L343.64 880.55L344.30 881.10L344.97 881.66L345.64 882.23L346.30 882.80L346.97 883.39L347.64 883.97L348.30 884.57L348.97 885.17L349.64 885.78L350.30 886.40L350.97 887.02L351.63 887.65L352.30 888.29L352.97 888.94L353.63 889.60L354.30 890.26L354.97 890.94L355.63 891.62L356.30 892.31L356.97 893.01L357.63 893.72L358.30 894.44L358.97 895.17L359.63 895.91L360.30 896.66L360.97 897.42L361.63 898.19L362.30 898.98L362.97 899.77L363.63 900.58L364.30 901.39L364.97 902.22L365.63 903.06L366.30 903.92L366.97 904.79L367.63 905.67L368.30 906.56L368.97 907.47L369.63 908.40L370.30 909.34L370.97 910.29L371.63 911.26L372.30 912.25L372.97 913.26L373.63 914.28L374.30 915.32L374.96 916.38L375.63 917.46L376.30 918.55L376.96 919.67L377.63 920.81L378.30 921.97L378.96 923.16L379.63 924.36L380.30 925.59L380.96 926.85L381.63 928.13L382.30 929.44L382.96 930.78L383.63 932.15L384.30 933.55L384.96 934.98L385.63 936.44L386.30 937.94L386.96 939.48L387.63 941.05L388.30 942.66L388.96 944.32L389.63 946.01L390.30 947.76L390.96 949.55L391.63 951.39L392.30 953.29L392.96 955.24L393.63 957.25L394.30 959.32L394.96 961.47L395.63 963.68L396.29 965.97L396.96 968.34L397.63 970.80L398.29 973.35L398.96 976.00L399.63 978.76L400.29 981.63L400.96 984.63L401.63 987.77L402.29 991.06L402.96 994.51L403.63 998.15L404.29 1001.99L404.96 1006.04L405.63 1010.35L406.29 1014.94L406.96 1019.86L407.63 1025.13L408.29 1030.83L408.96 1037.03L409.63 1043.81L410.29 1051.30L410.96 1059.64L411.63 1069.07L412.29 1079.87L412.96 1092.49L413.63 1107.60L414.29 1126.24L414.96 1149.87L415.62 1178.68L416.29 1196.90L416.96 1177.66L417.62 1148.73L418.29 1125.06L418.96 1106.35L419.62 1091.12L420.29 1078.36L420.96 1067.41L421.62 1057.82L422.29 1049.31L422.96 1041.65L423.62 1034.69L424.29 1028.31L424.96 1022.42L425.62 1016.96L426.29 1011.86L426.96 1007.09L427.62 1002.59L428.29 998.34L428.96 994.31L429.62 990.49L430.29 986.84L430.96 983.36L431.62 980.03L432.29 976.84L432.96 973.77L433.62 970.82L434.29 967.97L434.96 965.23L435.62 962.58L436.29 960.01L436.96 957.53L437.62 955.12L438.29 952.79L438.95 950.52L439.62 948.31L440.29 946.17L440.95 944.08L441.62 942.04L442.29 940.05L442.95 938.11L443.62 936.22L444.29 934.37L444.95 932.57L445.62 930.80L446.29 929.07L446.95 927.38L447.62 925.72L448.29 924.09L448.95 922.50L449.62 920.94L450.29 919.40L450.95 917.90L451.62 916.42L452.29 914.97L452.95 913.54L453.62 912.14L454.29 910.76L454.95 909.40L455.62 908.07L456.29 906.76L456.95 905.46L457.62 904.19L458.28 902.94L458.95 901.70L459.62 900.48L460.28 899.28L460.95 898.10L461.62 896.94L462.28 895.79L462.95 894.65L463.62 893.53L464.28 892.43L464.95 891.34L465.62 890.26L466.28 889.20L466.95 888.15L467.62 887.11L468.28 886.09L468.95 885.08L469.62 884.08L470.28 883.09L470.95 882.11L471.62 881.14L472.28 880.19L472.95 879.24L473.62 878.31L474.28 877.38L474.95 876.47L475.62 875.57L476.28 874.67L476.95 873.78L477.62 872.91L478.28 872.04L478.95 871.18L479.62 870.33L480.28 869.49L480.95 868.65L481.61 867.82L482.28 867.01L482.95 866.19L483.61 865.39L484.28 864.59L484.95 863.81L485.61 863.02L486.28 862.25L486.95 861.48L487.61 860.72L488.28 859.96L488.95 859.22L489.61 858.47L490.28 857.74L490.95 857.01L491.61 856.28L492.28 855.57L492.95 854.86L493.61 854.15L494.28 853.45L494.95 852.75L495.61 852.07L496.28 851.38L496.95 850.70L497.61 850.03L498.28 849.36L498.95 848.70L499.61 848.04L500.28 847.39L500.94 846.74L501.61 846.09L502.28 845.45L502.94 844.82L503.61 844.19L504.28 843.56L504.94 842.94L505.61 842.33L506.28 841.71L506.94 841.10L507.61 840.50L508.28 839.90L508.94 839.30L509.61 838.71L510.28 838.12L510.94 837.54L511.61 836.96L512.28 836.38L512.94 835.81L513.61 835.24L514.28 834.68L514.94 834.11L515.61 833.56L516.28 833.00L516.94 832.45L517.61 831.90L518.28 831.36L518.94 830.81L519.61 830.28L520.28 829.74L520.94 829.21L521.61 828.68L522.28 828.16L522.94 827.63L523.61 827.11L524.27 826.60L524.94 826.09L525.61 825.58L526.27 825.07L526.94 824.56L527.61 824.06L528.27 823.56L528.94 823.07L529.61 822.57L530.27 822.08L530.94 821.60L531.61 821.11L532.27 820.63L532.94 820.15L533.61 819.67L534.27 819.20L534.94 818.72L535.61 818.25L536.27 817.79L536.94 817.32L537.61 816.86L538.27 816.40L538.94 815.94L539.61 815.49L540.27 815.04L540.94 814.58L541.61 814.14L542.27 813.69L542.94 813.25L543.61 812.80L544.27 812.37L544.94 811.93L545.60 811.49L546.27 811.06L546.94 810.63L547.60 810.20L548.27 809.77L548.94 809.35L549.60 808.93L550.27 808.51L550.94 808.09L551.60 807.67L552.27 807.26L552.94 806.84L553.60 806.43L554.27 806.02L554.94 805.62L555.60 805.21L556.27 804.81L556.94 804.41L557.60 804.01L558.27 803.61L558.94 803.21L559.60 802.82L560.27 802.43L560.94 802.03L561.60 801.65L562.27 801.26L562.94 800.87L563.60 800.49L564.27 800.11L564.93 799.72L565.60 799.35L566.27 798.97L566.93 798.59L567.60 798.22L568.27 797.84L568.93 797.47L569.60 797.10L570.27 796.74L570.93 796.37L571.60 796.00L572.27 795.64L572.93 795.28L573.60 794.92L574.27 794.56L574.93 794.20L575.60 793.84L576.27 793.49L576.93 793.14L577.60 792.78L578.27 792.43L578.93 792.08L579.60 791.74L580.27 791.39L580.93 791.04L581.60 790.70L582.27 790.36L582.93 790.02L583.60 789.68L584.27 789.34L584.93 789.00L585.60 788.66L586.27 788.33L586.93 787.99L587.60 787.66L588.26 787.33L588.93 787.00L589.60 786.67L590.26 786.34L590.93 786.02L591.60 785.69L592.26 785.37L592.93 785.05L593.60 784.72L594.26 784.40L594.93 784.08L595.60 783.77L596.26 783.45L596.93 783.13L597.60 782.82L598.26 782.50L598.93 782.19L599.60 781.88L600.26 781.57L600.93 781.26L601.60 780.95L602.26 780.64L602.93 780.34L603.60 780.03L604.26 779.73L604.93 779.42L605.60 779.12L606.26 778.82L606.93 778.52L607.60 778.22L608.26 777.92L608.93 777.62L609.59 777.32L610.26 777.03L610.93 776.73L611.59 776.44L612.26 776.15L612.93 775.85L613.59 775.56L614.26 775.27L614.93 774.98L615.59 774.69L616.26 774.41L616.93 774.12L617.59 773.83L618.26 773.55L618.93 773.26L619.59 772.98L620.26 772.70L620.93 772.41L621.59 772.13L622.26 771.85L622.93 771.57L623.59 771.29L624.26 771.02L624.93 770.74L625.59 770.46L626.26 770.19L626.93 769.91L627.59 769.64L628.26 769.36L628.92 769.09L629.59 768.82L630.26 768.55L630.92 768.28L631.59 768.01L632.26 767.74L632.92 767.47L633.59 767.20L634.26 766.93L634.92 766.67L635.59 766.40L636.26 766.14L636.92 765.87L637.59 765.61L638.26 765.34L638.92 765.08L639.59 764.82L640.26 764.56L640.92 764.30L641.59 764.04L642.26 763.78L642.92 763.52L643.59 763.26L644.26 763.00L644.92 762.74L645.59 762.49L646.26 762.23L646.92 761.98L647.59 761.72L648.26 761.47L648.92 761.21L649.59 760.96L650.26 760.71L650.92 760.45L651.59 760.20L652.25 759.95L652.92 759.70L653.59 759.45L654.25 759.20L654.92 758.95L655.59 758.70L656.25 758.45L656.92 758.20L657.59 757.95L658.25 757.71L658.92 757.46L659.59 757.21L660.25 756.97L660.92 756.72L661.59 756.48L662.25 756.23L662.92 755.99L663.59 755.74L664.25 755.50L664.92 755.26L665.59 755.01L666.25 754.77L666.92 754.53L667.59 754.29L668.25 754.04L668.92 753.80L669.59 753.56L670.25 753.32L670.92 753.08L671.59 752.84L672.25 752.60L672.92 752.36L673.58 752.12L674.25 751.89L674.92 751.65L675.58 751.41L676.25 751.17L676.92 750.93L677.58 750.70L678.25 750.46L678.92 750.22L679.58 749.99L680.25 749.75L680.92 749.51L681.58 749.28L682.25 749.04" stroke="#f00"/>
</g>
<rect x="149.0" y="730.2" width="533.25" height="532.80" fill="none" stroke="#000" stroke-width="3.5"/>
<path d="M415.62 1263.0v-7.7M415.62 730.2v7.7" stroke="#000" stroke-width="3.5" fill="none"/>
<path d="M149.0 926.40h7.7M682.25 926.40h-7.7" stroke="#000" stroke-width="3.5" fill="none"/>
<path d="M149.0 1212.34h5.0M682.25 1212.34h-5.0M149.0 1182.70h5.0M682.25 1182.70h-5.0M149.0 1161.67h5.0M682.25 1161.67h-5.0M149.0 1145.36h5.0M682.25 1145.36h-5.0M149.0 1132.04h5.0M682.25 1132.04h-5.0M149.0 1120.77h5.0M682.25 1120.77h-5.0M149.0 1111.01h5.0M682.25 1111.01h-5.0M149.0 1102.40h5.0M682.25 1102.40h-5.0M149.0 1094.70h5.0M682.25 1094.70h-5.0M149.0 1044.04h5.0M682.25 1044.04h-5.0M149.0 1014.40h5.0M682.25 1014.40h-5.0M149.0 993.37h5.0M682.25 993.37h-5.0M149.0 977.06h5.0M682.25 977.06h-5.0M149.0 963.74h5.0M682.25 963.74h-5.0M149.0 952.47h5.0M682.25 952.47h-5.0M149.0 942.71h5.0M682.25 942.71h-5.0M149.0 934.10h5.0M682.25 934.10h-5.0M149.0 875.74h5.0M682.25 875.74h-5.0M149.0 846.10h5.0M682.25 846.10h-5.0M149.0 825.07h5.0M682.25 825.07h-5.0M149.0 808.76h5.0M682.25 808.76h-5.0M149.0 795.44h5.0M682.25 795.44h-5.0M149.0 784.17h5.0M682.25 784.17h-5.0M149.0 774.41h5.0M682.25 774.41h-5.0M149.0 765.80h5.0M682.25 765.80h-5.0M149.0 758.10h5.0M682.25 758.10h-5.0" stroke="#000" stroke-width="3.5" fill="none"/>
<text transform="translate(149.00 1311.40) scale(0.963 1)" font-size="41.4" text-anchor="middle" font-family="Liberation Serif, serif" >0</text>
<text transform="translate(415.62 1311.40) scale(0.963 1)" font-size="41.4" text-anchor="middle" font-family="Liberation Serif, serif" >0.5</text>
<text transform="translate(682.25 1311.40) scale(0.963 1)" font-size="41.4" text-anchor="middle" font-family="Liberation Serif, serif" >1</text>
<text transform="translate(79.24 936.49) scale(0.9986 1)" font-size="40.74" font-family="Liberation Serif, serif">10</text>
<text transform="translate(119.16 921.93) scale(1.0130 1)" font-size="27.41" font-family="Liberation Serif, serif">0</text>
<text transform="translate(58.09 1272.80) scale(1.0066 1)" font-size="39.85" font-family="Liberation Serif, serif">10</text>
<text transform="translate(98.42 1266.80) scale(0.7761 1)" font-size="46.00" font-family="Liberation Serif, serif">−</text>
<text transform="translate(119.13 1258.30) scale(1.0381 1)" font-size="26.57" font-family="Liberation Serif, serif">2</text>
<text transform="translate(386.81 1364.57) scale(1.1700 1)" font-size="42.97" font-style="italic" font-family="Liberation Serif, serif">γ</text>
<text transform="translate(409.59 1364.74) scale(1.0143 1)" font-size="45.77" font-style="italic" font-family="Liberation Serif, serif">θ</text>
<text transform="translate(31.71 1058.24) rotate(-90) scale(1.2700 1)" font-size="38.94" font-style="italic" font-family="Liberation Serif, serif">τ</text>
<text transform="translate(37.20 1039.27) rotate(-90) scale(1.1131 1)" font-size="31.15" font-style="italic" font-family="Liberation Serif, serif">X</text>
<text transform="translate(34.08 1007.15) rotate(-90) scale(0.8618 1)" font-size="50.47" font-family="Liberation Serif, serif">(</text>
<text transform="translate(33.45 992.31) rotate(-90) scale(0.9753 1)" font-size="44.62" font-family="Liberation Serif, serif">fs</text>
<text transform="translate(34.08 960.74) rotate(-90) scale(0.8157 1)" font-size="50.47" font-family="Liberation Serif, serif">)</text>
<clipPath id="cd"><rect x="896.1" y="728.2" width="533.10" height="534.80"/></clipPath>
<g clip-path="url(#cd)" fill="none" stroke-width="2.75" stroke-linejoin="round">
<path d="M896.10 1100.20L896.77 1100.20L897.43 1100.20L898.10 1100.20L898.77 1100.19L899.43 1100.19L900.10 1100.18L900.76 1100.18L901.43 1100.17L902.10 1100.17L902.76 1100.16L903.43 1100.15L904.10 1100.14L904.76 1100.13L905.43 1100.12L906.10 1100.10L906.76 1100.09L907.43 1100.08L908.09 1100.06L908.76 1100.05L909.43 1100.03L910.09 1100.01L910.76 1099.99L911.43 1099.97L912.09 1099.95L912.76 1099.93L913.43 1099.91L914.09 1099.89L914.76 1099.87L915.42 1099.84L916.09 1099.82L916.76 1099.79L917.42 1099.76L918.09 1099.74L918.76 1099.71L919.42 1099.68L920.09 1099.65L920.76 1099.62L921.42 1099.58L922.09 1099.55L922.75 1099.52L923.42 1099.48L924.09 1099.45L924.75 1099.41L925.42 1099.37L926.09 1099.34L926.75 1099.30L927.42 1099.26L928.09 1099.22L928.75 1099.18L929.42 1099.13L930.09 1099.09L930.75 1099.05L931.42 1099.00L932.08 1098.96L932.75 1098.91L933.42 1098.86L934.08 1098.81L934.75 1098.77L935.42 1098.72L936.08 1098.66L936.75 1098.61L937.42 1098.56L938.08 1098.51L938.75 1098.45L939.41 1098.40L940.08 1098.34L940.75 1098.28L941.41 1098.23L942.08 1098.17L942.75 1098.11L943.41 1098.05L944.08 1097.99L944.75 1097.93L945.41 1097.86L946.08 1097.80L946.74 1097.73L947.41 1097.67L948.08 1097.60L948.74 1097.54L949.41 1097.47L950.08 1097.40L950.74 1097.33L951.41 1097.26L952.08 1097.19L952.74 1097.11L953.41 1097.04L954.07 1096.97L954.74 1096.89L955.41 1096.82L956.07 1096.74L956.74 1096.66L957.41 1096.58L958.07 1096.50L958.74 1096.42L959.41 1096.34L960.07 1096.26L960.74 1096.18L961.40 1096.09L962.07 1096.01L962.74 1095.92L963.40 1095.84L964.07 1095.75L964.74 1095.66L965.40 1095.57L966.07 1095.48L966.74 1095.39L967.40 1095.30L968.07 1095.21L968.73 1095.12L969.40 1095.02L970.07 1094.93L970.73 1094.83L971.40 1094.73L972.07 1094.64L972.73 1094.54L973.40 1094.44L974.07 1094.34L974.73 1094.24L975.40 1094.14L976.07 1094.03L976.73 1093.93L977.40 1093.82L978.06 1093.72L978.73 1093.61L979.40 1093.51L980.06 1093.40L980.73 1093.29L981.40 1093.18L982.06 1093.07L982.73 1092.96L983.40 1092.84L984.06 1092.73L984.73 1092.62L985.39 1092.50L986.06 1092.38L986.73 1092.27L987.39 1092.15L988.06 1092.03L988.73 1091.91L989.39 1091.79L990.06 1091.67L990.73 1091.55L991.39 1091.42L992.06 1091.30L992.72 1091.17L993.39 1091.05L994.06 1090.92L994.72 1090.79L995.39 1090.66L996.06 1090.53L996.72 1090.40L997.39 1090.27L998.06 1090.14L998.72 1090.01L999.39 1089.87L1000.05 1089.74L1000.72 1089.60L1001.39 1089.47L1002.05 1089.33L1002.72 1089.19L1003.39 1089.05L1004.05 1088.91L1004.72 1088.77L1005.39 1088.63L1006.05 1088.48L1006.72 1088.34L1007.38 1088.20L1008.05 1088.05L1008.72 1087.90L1009.38 1087.76L1010.05 1087.61L1010.72 1087.46L1011.38 1087.31L1012.05 1087.16L1012.72 1087.00L1013.38 1086.85L1014.05 1086.70L1014.71 1086.54L1015.38 1086.39L1016.05 1086.23L1016.71 1086.07L1017.38 1085.91L1018.05 1085.75L1018.71 1085.59L1019.38 1085.43L1020.05 1085.27L1020.71 1085.11L1021.38 1084.94L1022.04 1084.78L1022.71 1084.61L1023.38 1084.45L1024.04 1084.28L1024.71 1084.11L1025.38 1083.94L1026.04 1083.77L1026.71 1083.60L1027.38 1083.43L1028.04 1083.25L1028.71 1083.08L1029.38 1082.90L1030.04 1082.73L1030.71 1082.55L1031.37 1082.37L1032.04 1082.19L1032.71 1082.01L1033.37 1081.83L1034.04 1081.65L1034.71 1081.47L1035.37 1081.28L1036.04 1081.10L1036.71 1080.92L1037.37 1080.73L1038.04 1080.54L1038.70 1080.35L1039.37 1080.16L1040.04 1079.97L1040.70 1079.78L1041.37 1079.59L1042.04 1079.40L1042.70 1079.20L1043.37 1079.01L1044.04 1078.81L1044.70 1078.62L1045.37 1078.42L1046.03 1078.22L1046.70 1078.02L1047.37 1077.82L1048.03 1077.62L1048.70 1077.41L1049.37 1077.21L1050.03 1077.01L1050.70 1076.80L1051.37 1076.59L1052.03 1076.39L1052.70 1076.18L1053.36 1075.97L1054.03 1075.76L1054.70 1075.55L1055.36 1075.34L1056.03 1075.12L1056.70 1074.91L1057.36 1074.69L1058.03 1074.48L1058.70 1074.26L1059.36 1074.04L1060.03 1073.82L1060.69 1073.60L1061.36 1073.38L1062.03 1073.16L1062.69 1072.94L1063.36 1072.71L1064.03 1072.49L1064.69 1072.26L1065.36 1072.04L1066.03 1071.81L1066.69 1071.58L1067.36 1071.35L1068.02 1071.12L1068.69 1070.89L1069.36 1070.65L1070.02 1070.42L1070.69 1070.19L1071.36 1069.95L1072.02 1069.71L1072.69 1069.47L1073.36 1069.24L1074.02 1069.00L1074.69 1068.76L1075.35 1068.51L1076.02 1068.27L1076.69 1068.03L1077.35 1067.78L1078.02 1067.54L1078.69 1067.29L1079.35 1067.04L1080.02 1066.79L1080.69 1066.54L1081.35 1066.29L1082.02 1066.04L1082.68 1065.79L1083.35 1065.53L1084.02 1065.28L1084.68 1065.02L1085.35 1064.76L1086.02 1064.51L1086.68 1064.25L1087.35 1063.99L1088.02 1063.73L1088.68 1063.46L1089.35 1063.20L1090.02 1062.94L1090.68 1062.67L1091.35 1062.40L1092.01 1062.14L1092.68 1061.87L1093.35 1061.60L1094.01 1061.33L1094.68 1061.06L1095.35 1060.78L1096.01 1060.51L1096.68 1060.24L1097.35 1059.96L1098.01 1059.68L1098.68 1059.40L1099.34 1059.13L1100.01 1058.85L1100.68 1058.56L1101.34 1058.28L1102.01 1058.00L1102.68 1057.71L1103.34 1057.43L1104.01 1057.14L1104.68 1056.86L1105.34 1056.57L1106.01 1056.28L1106.67 1055.99L1107.34 1055.69L1108.01 1055.40L1108.67 1055.11L1109.34 1054.81L1110.01 1054.52L1110.67 1054.22L1111.34 1053.92L1112.01 1053.62L1112.67 1053.32L1113.34 1053.02L1114.00 1052.72L1114.67 1052.41L1115.34 1052.11L1116.00 1051.80L1116.67 1051.50L1117.34 1051.19L1118.00 1050.88L1118.67 1050.57L1119.34 1050.26L1120.00 1049.94L1120.67 1049.63L1121.33 1049.32L1122.00 1049.00L1122.67 1048.68L1123.33 1048.36L1124.00 1048.05L1124.67 1047.73L1125.33 1047.40L1126.00 1047.08L1126.67 1046.76L1127.33 1046.43L1128.00 1046.11L1128.66 1045.78L1129.33 1045.45L1130.00 1045.12L1130.66 1044.79L1131.33 1044.46L1132.00 1044.13L1132.66 1043.79L1133.33 1043.46L1134.00 1043.12L1134.66 1042.78L1135.33 1042.45L1136.00 1042.11L1136.66 1041.76L1137.33 1041.42L1137.99 1041.08L1138.66 1040.73L1139.33 1040.39L1139.99 1040.04L1140.66 1039.69L1141.33 1039.35L1141.99 1039.00L1142.66 1038.64L1143.33 1038.29L1143.99 1037.94L1144.66 1037.58L1145.32 1037.23L1145.99 1036.87L1146.66 1036.51L1147.32 1036.15L1147.99 1035.79L1148.66 1035.43L1149.32 1035.06L1149.99 1034.70L1150.66 1034.33L1151.32 1033.97L1151.99 1033.60L1152.65 1033.23L1153.32 1032.86L1153.99 1032.49L1154.65 1032.11L1155.32 1031.74L1155.99 1031.36L1156.65 1030.99L1157.32 1030.61L1157.99 1030.23L1158.65 1029.85L1159.32 1029.47L1159.98 1029.09L1160.65 1028.70L1161.32 1028.32L1161.98 1027.93L1162.65 1027.54L1163.32 1027.15L1163.98 1026.76L1164.65 1026.37L1165.32 1025.98L1165.98 1025.59L1166.65 1025.19L1167.31 1024.79L1167.98 1024.40L1168.65 1024.00L1169.31 1023.60L1169.98 1023.19L1170.65 1022.79L1171.31 1022.39L1171.98 1021.98L1172.65 1021.57L1173.31 1021.17L1173.98 1020.76L1174.64 1020.35L1175.31 1019.93L1175.98 1019.52L1176.64 1019.11L1177.31 1018.69L1177.98 1018.27L1178.64 1017.86L1179.31 1017.44L1179.98 1017.01L1180.64 1016.59L1181.31 1016.17L1181.97 1015.74L1182.64 1015.32L1183.31 1014.89L1183.97 1014.46L1184.64 1014.03L1185.31 1013.60L1185.97 1013.17L1186.64 1012.73L1187.31 1012.30L1187.97 1011.86L1188.64 1011.42L1189.31 1010.98L1189.97 1010.54L1190.64 1010.10L1191.30 1009.65L1191.97 1009.21L1192.64 1008.76L1193.30 1008.31L1193.97 1007.86L1194.64 1007.41L1195.30 1006.96L1195.97 1006.51L1196.64 1006.05L1197.30 1005.60L1197.97 1005.14L1198.63 1004.68L1199.30 1004.22L1199.97 1003.76L1200.63 1003.29L1201.30 1002.83L1201.97 1002.36L1202.63 1001.90L1203.30 1001.43L1203.97 1000.96L1204.63 1000.48L1205.30 1000.01L1205.96 999.54L1206.63 999.06L1207.30 998.58L1207.96 998.10L1208.63 997.62L1209.30 997.14L1209.96 996.66L1210.63 996.17L1211.30 995.69L1211.96 995.20L1212.63 994.71L1213.29 994.22L1213.96 993.73L1214.63 993.23L1215.29 992.74L1215.96 992.24L1216.63 991.74L1217.29 991.25L1217.96 990.74L1218.63 990.24L1219.29 989.74L1219.96 989.23L1220.62 988.73L1221.29 988.22L1221.96 987.71L1222.62 987.20L1223.29 986.68L1223.96 986.17L1224.62 985.65L1225.29 985.13L1225.96 984.61L1226.62 984.09L1227.29 983.57L1227.95 983.05L1228.62 982.52L1229.29 982.00L1229.95 981.47L1230.62 980.94L1231.29 980.41L1231.95 979.87L1232.62 979.34L1233.29 978.80L1233.95 978.26L1234.62 977.72L1235.28 977.18L1235.95 976.64L1236.62 976.10L1237.28 975.55L1237.95 975.00L1238.62 974.45L1239.28 973.90L1239.95 973.35L1240.62 972.80L1241.28 972.24L1241.95 971.68L1242.62 971.12L1243.28 970.56L1243.95 970.00L1244.61 969.44L1245.28 968.87L1245.95 968.31L1246.61 967.74L1247.28 967.17L1247.95 966.59L1248.61 966.02L1249.28 965.45L1249.95 964.87L1250.61 964.29L1251.28 963.71L1251.94 963.13L1252.61 962.54L1253.28 961.96L1253.94 961.37L1254.61 960.78L1255.28 960.19L1255.94 959.60L1256.61 959.00L1257.28 958.41L1257.94 957.81L1258.61 957.21L1259.27 956.61L1259.94 956.01L1260.61 955.40L1261.27 954.80L1261.94 954.19L1262.61 953.58L1263.27 952.97L1263.94 952.35L1264.61 951.74L1265.27 951.12L1265.94 950.50L1266.60 949.88L1267.27 949.26L1267.94 948.64L1268.60 948.01L1269.27 947.38L1269.94 946.75L1270.60 946.12L1271.27 945.49L1271.94 944.85L1272.60 944.22L1273.27 943.58L1273.93 942.94L1274.60 942.29L1275.27 941.65L1275.93 941.00L1276.60 940.36L1277.27 939.71L1277.93 939.05L1278.60 938.40L1279.27 937.75L1279.93 937.09L1280.60 936.43L1281.26 935.77L1281.93 935.10L1282.60 934.44L1283.26 933.77L1283.93 933.10L1284.60 932.43L1285.26 931.76L1285.93 931.09L1286.60 930.41L1287.26 929.73L1287.93 929.05L1288.59 928.37L1289.26 927.68L1289.93 927.00L1290.59 926.31L1291.26 925.62L1291.93 924.93L1292.59 924.23L1293.26 923.54L1293.93 922.84L1294.59 922.14L1295.26 921.43L1295.93 920.73L1296.59 920.02L1297.26 919.32L1297.92 918.60L1298.59 917.89L1299.26 917.18L1299.92 916.46L1300.59 915.74L1301.26 915.02L1301.92 914.30L1302.59 913.57L1303.26 912.85L1303.92 912.12L1304.59 911.39L1305.25 910.65L1305.92 909.92L1306.59 909.18L1307.25 908.44L1307.92 907.70L1308.59 906.96L1309.25 906.21L1309.92 905.46L1310.59 904.71L1311.25 903.96L1311.92 903.21L1312.58 902.45L1313.25 901.69L1313.92 900.93L1314.58 900.17L1315.25 899.40L1315.92 898.63L1316.58 897.86L1317.25 897.09L1317.92 896.32L1318.58 895.54L1319.25 894.76L1319.91 893.98L1320.58 893.20L1321.25 892.41L1321.91 891.63L1322.58 890.84L1323.25 890.04L1323.91 889.25L1324.58 888.45L1325.25 887.65L1325.91 886.85L1326.58 886.05L1327.24 885.24L1327.91 884.43L1328.58 883.62L1329.24 882.81L1329.91 882.00L1330.58 881.18L1331.24 880.36L1331.91 879.54L1332.58 878.71L1333.24 877.89L1333.91 877.06L1334.57 876.22L1335.24 875.39L1335.91 874.55L1336.57 873.72L1337.24 872.87L1337.91 872.03L1338.57 871.18L1339.24 870.34L1339.91 869.49L1340.57 868.63L1341.24 867.78L1341.90 866.92L1342.57 866.06L1343.24 865.19L1343.90 864.33L1344.57 863.46L1345.24 862.59L1345.90 861.72L1346.57 860.84L1347.24 859.96L1347.90 859.08L1348.57 858.20L1349.24 857.31L1349.90 856.43L1350.57 855.54L1351.23 854.64L1351.90 853.75L1352.57 852.85L1353.23 851.95L1353.90 851.04L1354.57 850.14L1355.23 849.23L1355.90 848.32L1356.57 847.40L1357.23 846.49L1357.90 845.57L1358.56 844.64L1359.23 843.72L1359.90 842.79L1360.56 841.86L1361.23 840.93L1361.90 840.00L1362.56 839.06L1363.23 838.12L1363.90 837.17L1364.56 836.23L1365.23 835.28L1365.89 834.33L1366.56 833.37L1367.23 832.42L1367.89 831.46L1368.56 830.49L1369.23 829.53L1369.89 828.56L1370.56 827.59L1371.23 826.62L1371.89 825.64L1372.56 824.66L1373.22 823.68L1373.89 822.69L1374.56 821.71L1375.22 820.72L1375.89 819.72L1376.56 818.73L1377.22 817.73L1377.89 816.73L1378.56 815.72L1379.22 814.71L1379.89 813.70L1380.55 812.69L1381.22 811.67L1381.89 810.65L1382.55 809.63L1383.22 808.61L1383.89 807.58L1384.55 806.55L1385.22 805.51L1385.89 804.48L1386.55 803.44L1387.22 802.39L1387.88 801.35L1388.55 800.30L1389.22 799.24L1389.88 798.19L1390.55 797.13L1391.22 796.07L1391.88 795.01L1392.55 793.94L1393.22 792.87L1393.88 791.79L1394.55 790.72L1395.21 789.64L1395.88 788.56L1396.55 787.47L1397.21 786.38L1397.88 785.29L1398.55 784.19L1399.21 783.09L1399.88 781.99L1400.55 780.89L1401.21 779.78L1401.88 778.67L1402.55 777.55L1403.21 776.44L1403.88 775.31L1404.54 774.19L1405.21 773.06L1405.88 771.93L1406.54 770.80L1407.21 769.66L1407.88 768.52L1408.54 767.38L1409.21 766.23L1409.88 765.08L1410.54 763.93L1411.21 762.77L1411.87 761.61L1412.54 760.44L1413.21 759.28L1413.87 758.11L1414.54 756.93L1415.21 755.76L1415.87 754.57L1416.54 753.39L1417.21 752.20L1417.87 751.01L1418.54 749.82L1419.20 748.62L1419.87 747.42L1420.54 746.21L1421.20 745.00L1421.87 743.79L1422.54 742.58L1423.20 741.36L1423.87 740.14L1424.54 738.91L1425.20 737.68L1425.87 736.45L1426.53 735.21L1427.20 733.97L1427.87 732.73L1428.53 731.48L1429.20 730.23" stroke="#000"/>
<path d="M896.10 1169.57L896.77 1169.57L897.43 1169.57L898.10 1169.57L898.77 1169.57L899.43 1169.57L900.10 1169.57L900.76 1169.57L901.43 1169.56L902.10 1169.56L902.76 1169.55L903.43 1169.55L904.10 1169.54L904.76 1169.53L905.43 1169.52L906.10 1169.51L906.76 1169.50L907.43 1169.49L908.09 1169.48L908.76 1169.46L909.43 1169.45L910.09 1169.44L910.76 1169.42L911.43 1169.40L912.09 1169.39L912.76 1169.37L913.43 1169.35L914.09 1169.33L914.76 1169.31L915.42 1169.29L916.09 1169.26L916.76 1169.24L917.42 1169.21L918.09 1169.19L918.76 1169.16L919.42 1169.14L920.09 1169.11L920.76 1169.08L921.42 1169.05L922.09 1169.02L922.75 1168.99L923.42 1168.96L924.09 1168.92L924.75 1168.89L925.42 1168.86L926.09 1168.82L926.75 1168.78L927.42 1168.75L928.09 1168.71L928.75 1168.67L929.42 1168.63L930.09 1168.59L930.75 1168.55L931.42 1168.51L932.08 1168.46L932.75 1168.42L933.42 1168.37L934.08 1168.33L934.75 1168.28L935.42 1168.24L936.08 1168.19L936.75 1168.14L937.42 1168.09L938.08 1168.04L938.75 1167.99L939.41 1167.93L940.08 1167.88L940.75 1167.82L941.41 1167.77L942.08 1167.71L942.75 1167.66L943.41 1167.60L944.08 1167.54L944.75 1167.48L945.41 1167.42L946.08 1167.36L946.74 1167.30L947.41 1167.23L948.08 1167.17L948.74 1167.11L949.41 1167.04L950.08 1166.97L950.74 1166.91L951.41 1166.84L952.08 1166.77L952.74 1166.70L953.41 1166.63L954.07 1166.56L954.74 1166.49L955.41 1166.41L956.07 1166.34L956.74 1166.26L957.41 1166.19L958.07 1166.11L958.74 1166.03L959.41 1165.95L960.07 1165.87L960.74 1165.79L961.40 1165.71L962.07 1165.63L962.74 1165.55L963.40 1165.46L964.07 1165.38L964.74 1165.29L965.40 1165.21L966.07 1165.12L966.74 1165.03L967.40 1164.94L968.07 1164.85L968.73 1164.76L969.40 1164.67L970.07 1164.58L970.73 1164.49L971.40 1164.39L972.07 1164.30L972.73 1164.20L973.40 1164.10L974.07 1164.01L974.73 1163.91L975.40 1163.81L976.07 1163.71L976.73 1163.61L977.40 1163.50L978.06 1163.40L978.73 1163.30L979.40 1163.19L980.06 1163.09L980.73 1162.98L981.40 1162.87L982.06 1162.77L982.73 1162.66L983.40 1162.55L984.06 1162.44L984.73 1162.32L985.39 1162.21L986.06 1162.10L986.73 1161.98L987.39 1161.87L988.06 1161.75L988.73 1161.63L989.39 1161.52L990.06 1161.40L990.73 1161.28L991.39 1161.16L992.06 1161.03L992.72 1160.91L993.39 1160.79L994.06 1160.66L994.72 1160.54L995.39 1160.41L996.06 1160.29L996.72 1160.16L997.39 1160.03L998.06 1159.90L998.72 1159.77L999.39 1159.64L1000.05 1159.51L1000.72 1159.37L1001.39 1159.24L1002.05 1159.10L1002.72 1158.97L1003.39 1158.83L1004.05 1158.69L1004.72 1158.55L1005.39 1158.41L1006.05 1158.27L1006.72 1158.13L1007.38 1157.99L1008.05 1157.85L1008.72 1157.70L1009.38 1157.56L1010.05 1157.41L1010.72 1157.27L1011.38 1157.12L1012.05 1156.97L1012.72 1156.82L1013.38 1156.67L1014.05 1156.52L1014.71 1156.37L1015.38 1156.21L1016.05 1156.06L1016.71 1155.90L1017.38 1155.75L1018.05 1155.59L1018.71 1155.43L1019.38 1155.27L1020.05 1155.11L1020.71 1154.95L1021.38 1154.79L1022.04 1154.63L1022.71 1154.47L1023.38 1154.30L1024.04 1154.14L1024.71 1153.97L1025.38 1153.80L1026.04 1153.64L1026.71 1153.47L1027.38 1153.30L1028.04 1153.13L1028.71 1152.95L1029.38 1152.78L1030.04 1152.61L1030.71 1152.43L1031.37 1152.26L1032.04 1152.08L1032.71 1151.91L1033.37 1151.73L1034.04 1151.55L1034.71 1151.37L1035.37 1151.19L1036.04 1151.00L1036.71 1150.82L1037.37 1150.64L1038.04 1150.45L1038.70 1150.27L1039.37 1150.08L1040.04 1149.89L1040.70 1149.70L1041.37 1149.51L1042.04 1149.32L1042.70 1149.13L1043.37 1148.94L1044.04 1148.75L1044.70 1148.55L1045.37 1148.36L1046.03 1148.16L1046.70 1147.96L1047.37 1147.77L1048.03 1147.57L1048.70 1147.37L1049.37 1147.17L1050.03 1146.96L1050.70 1146.76L1051.37 1146.56L1052.03 1146.35L1052.70 1146.15L1053.36 1145.94L1054.03 1145.73L1054.70 1145.52L1055.36 1145.31L1056.03 1145.10L1056.70 1144.89L1057.36 1144.68L1058.03 1144.47L1058.70 1144.25L1059.36 1144.04L1060.03 1143.82L1060.69 1143.60L1061.36 1143.38L1062.03 1143.16L1062.69 1142.94L1063.36 1142.72L1064.03 1142.50L1064.69 1142.28L1065.36 1142.05L1066.03 1141.83L1066.69 1141.60L1067.36 1141.37L1068.02 1141.14L1068.69 1140.92L1069.36 1140.69L1070.02 1140.45L1070.69 1140.22L1071.36 1139.99L1072.02 1139.75L1072.69 1139.52L1073.36 1139.28L1074.02 1139.05L1074.69 1138.81L1075.35 1138.57L1076.02 1138.33L1076.69 1138.09L1077.35 1137.84L1078.02 1137.60L1078.69 1137.36L1079.35 1137.11L1080.02 1136.86L1080.69 1136.62L1081.35 1136.37L1082.02 1136.12L1082.68 1135.87L1083.35 1135.62L1084.02 1135.36L1084.68 1135.11L1085.35 1134.86L1086.02 1134.60L1086.68 1134.34L1087.35 1134.09L1088.02 1133.83L1088.68 1133.57L1089.35 1133.31L1090.02 1133.05L1090.68 1132.78L1091.35 1132.52L1092.01 1132.25L1092.68 1131.99L1093.35 1131.72L1094.01 1131.45L1094.68 1131.18L1095.35 1130.91L1096.01 1130.64L1096.68 1130.37L1097.35 1130.10L1098.01 1129.82L1098.68 1129.55L1099.34 1129.27L1100.01 1128.99L1100.68 1128.72L1101.34 1128.44L1102.01 1128.16L1102.68 1127.87L1103.34 1127.59L1104.01 1127.31L1104.68 1127.02L1105.34 1126.74L1106.01 1126.45L1106.67 1126.16L1107.34 1125.87L1108.01 1125.58L1108.67 1125.29L1109.34 1125.00L1110.01 1124.70L1110.67 1124.41L1111.34 1124.11L1112.01 1123.82L1112.67 1123.52L1113.34 1123.22L1114.00 1122.92L1114.67 1122.62L1115.34 1122.32L1116.00 1122.01L1116.67 1121.71L1117.34 1121.40L1118.00 1121.10L1118.67 1120.79L1119.34 1120.48L1120.00 1120.17L1120.67 1119.86L1121.33 1119.55L1122.00 1119.23L1122.67 1118.92L1123.33 1118.60L1124.00 1118.29L1124.67 1117.97L1125.33 1117.65L1126.00 1117.33L1126.67 1117.01L1127.33 1116.69L1128.00 1116.36L1128.66 1116.04L1129.33 1115.71L1130.00 1115.38L1130.66 1115.06L1131.33 1114.73L1132.00 1114.40L1132.66 1114.07L1133.33 1113.73L1134.00 1113.40L1134.66 1113.06L1135.33 1112.73L1136.00 1112.39L1136.66 1112.05L1137.33 1111.71L1137.99 1111.37L1138.66 1111.03L1139.33 1110.69L1139.99 1110.34L1140.66 1110.00L1141.33 1109.65L1141.99 1109.30L1142.66 1108.96L1143.33 1108.61L1143.99 1108.25L1144.66 1107.90L1145.32 1107.55L1145.99 1107.19L1146.66 1106.84L1147.32 1106.48L1147.99 1106.12L1148.66 1105.76L1149.32 1105.40L1149.99 1105.04L1150.66 1104.68L1151.32 1104.31L1151.99 1103.95L1152.65 1103.58L1153.32 1103.21L1153.99 1102.84L1154.65 1102.47L1155.32 1102.10L1155.99 1101.73L1156.65 1101.35L1157.32 1100.98L1157.99 1100.60L1158.65 1100.22L1159.32 1099.84L1159.98 1099.46L1160.65 1099.08L1161.32 1098.70L1161.98 1098.32L1162.65 1097.93L1163.32 1097.54L1163.98 1097.16L1164.65 1096.77L1165.32 1096.38L1165.98 1095.99L1166.65 1095.59L1167.31 1095.20L1167.98 1094.80L1168.65 1094.41L1169.31 1094.01L1169.98 1093.61L1170.65 1093.21L1171.31 1092.81L1171.98 1092.40L1172.65 1092.00L1173.31 1091.60L1173.98 1091.19L1174.64 1090.78L1175.31 1090.37L1175.98 1089.96L1176.64 1089.55L1177.31 1089.13L1177.98 1088.72L1178.64 1088.30L1179.31 1087.89L1179.98 1087.47L1180.64 1087.05L1181.31 1086.63L1181.97 1086.20L1182.64 1085.78L1183.31 1085.36L1183.97 1084.93L1184.64 1084.50L1185.31 1084.07L1185.97 1083.64L1186.64 1083.21L1187.31 1082.78L1187.97 1082.34L1188.64 1081.91L1189.31 1081.47L1189.97 1081.03L1190.64 1080.59L1191.30 1080.15L1191.97 1079.71L1192.64 1079.26L1193.30 1078.82L1193.97 1078.37L1194.64 1077.92L1195.30 1077.47L1195.97 1077.02L1196.64 1076.57L1197.30 1076.12L1197.97 1075.66L1198.63 1075.20L1199.30 1074.75L1199.97 1074.29L1200.63 1073.83L1201.30 1073.36L1201.97 1072.90L1202.63 1072.44L1203.30 1071.97L1203.97 1071.50L1204.63 1071.03L1205.30 1070.56L1205.96 1070.09L1206.63 1069.62L1207.30 1069.14L1207.96 1068.66L1208.63 1068.19L1209.30 1067.71L1209.96 1067.23L1210.63 1066.74L1211.30 1066.26L1211.96 1065.78L1212.63 1065.29L1213.29 1064.80L1213.96 1064.31L1214.63 1063.82L1215.29 1063.33L1215.96 1062.83L1216.63 1062.34L1217.29 1061.84L1217.96 1061.34L1218.63 1060.84L1219.29 1060.34L1219.96 1059.84L1220.62 1059.33L1221.29 1058.83L1221.96 1058.32L1222.62 1057.81L1223.29 1057.30L1223.96 1056.79L1224.62 1056.28L1225.29 1055.76L1225.96 1055.24L1226.62 1054.73L1227.29 1054.21L1227.95 1053.68L1228.62 1053.16L1229.29 1052.64L1229.95 1052.11L1230.62 1051.58L1231.29 1051.06L1231.95 1050.52L1232.62 1049.99L1233.29 1049.46L1233.95 1048.92L1234.62 1048.39L1235.28 1047.85L1235.95 1047.31L1236.62 1046.77L1237.28 1046.22L1237.95 1045.68L1238.62 1045.13L1239.28 1044.58L1239.95 1044.03L1240.62 1043.48L1241.28 1042.93L1241.95 1042.37L1242.62 1041.82L1243.28 1041.26L1243.95 1040.70L1244.61 1040.14L1245.28 1039.58L1245.95 1039.01L1246.61 1038.45L1247.28 1037.88L1247.95 1037.31L1248.61 1036.74L1249.28 1036.16L1249.95 1035.59L1250.61 1035.01L1251.28 1034.44L1251.94 1033.86L1252.61 1033.27L1253.28 1032.69L1253.94 1032.11L1254.61 1031.52L1255.28 1030.93L1255.94 1030.34L1256.61 1029.75L1257.28 1029.16L1257.94 1028.56L1258.61 1027.97L1259.27 1027.37L1259.94 1026.77L1260.61 1026.16L1261.27 1025.56L1261.94 1024.96L1262.61 1024.35L1263.27 1023.74L1263.94 1023.13L1264.61 1022.52L1265.27 1021.90L1265.94 1021.28L1266.60 1020.67L1267.27 1020.05L1267.94 1019.43L1268.60 1018.80L1269.27 1018.18L1269.94 1017.55L1270.60 1016.92L1271.27 1016.29L1271.94 1015.66L1272.60 1015.02L1273.27 1014.39L1273.93 1013.75L1274.60 1013.11L1275.27 1012.47L1275.93 1011.82L1276.60 1011.18L1277.27 1010.53L1277.93 1009.88L1278.60 1009.23L1279.27 1008.58L1279.93 1007.92L1280.60 1007.27L1281.26 1006.61L1281.93 1005.95L1282.60 1005.28L1283.26 1004.62L1283.93 1003.95L1284.60 1003.29L1285.26 1002.62L1285.93 1001.94L1286.60 1001.27L1287.26 1000.59L1287.93 999.92L1288.59 999.24L1289.26 998.55L1289.93 997.87L1290.59 997.18L1291.26 996.50L1291.93 995.81L1292.59 995.12L1293.26 994.42L1293.93 993.73L1294.59 993.03L1295.26 992.33L1295.93 991.63L1296.59 990.92L1297.26 990.22L1297.92 989.51L1298.59 988.80L1299.26 988.09L1299.92 987.37L1300.59 986.66L1301.26 985.94L1301.92 985.22L1302.59 984.50L1303.26 983.77L1303.92 983.05L1304.59 982.32L1305.25 981.59L1305.92 980.85L1306.59 980.12L1307.25 979.38L1307.92 978.64L1308.59 977.90L1309.25 977.16L1309.92 976.41L1310.59 975.66L1311.25 974.92L1311.92 974.16L1312.58 973.41L1313.25 972.65L1313.92 971.89L1314.58 971.13L1315.25 970.37L1315.92 969.61L1316.58 968.84L1317.25 968.07L1317.92 967.30L1318.58 966.52L1319.25 965.75L1319.91 964.97L1320.58 964.19L1321.25 963.41L1321.91 962.62L1322.58 961.83L1323.25 961.04L1323.91 960.25L1324.58 959.46L1325.25 958.66L1325.91 957.86L1326.58 957.06L1327.24 956.26L1327.91 955.45L1328.58 954.65L1329.24 953.83L1329.91 953.02L1330.58 952.21L1331.24 951.39L1331.91 950.57L1332.58 949.75L1333.24 948.92L1333.91 948.10L1334.57 947.27L1335.24 946.44L1335.91 945.60L1336.57 944.77L1337.24 943.93L1337.91 943.09L1338.57 942.24L1339.24 941.40L1339.91 940.55L1340.57 939.70L1341.24 938.85L1341.90 937.99L1342.57 937.13L1343.24 936.27L1343.90 935.41L1344.57 934.54L1345.24 933.67L1345.90 932.80L1346.57 931.93L1347.24 931.06L1347.90 930.18L1348.57 929.30L1349.24 928.41L1349.90 927.53L1350.57 926.64L1351.23 925.75L1351.90 924.86L1352.57 923.96L1353.23 923.06L1353.90 922.16L1354.57 921.26L1355.23 920.35L1355.90 919.44L1356.57 918.53L1357.23 917.62L1357.90 916.70L1358.56 915.78L1359.23 914.86L1359.90 913.93L1360.56 913.01L1361.23 912.08L1361.90 911.14L1362.56 910.21L1363.23 909.27L1363.90 908.33L1364.56 907.39L1365.23 906.44L1365.89 905.49L1366.56 904.54L1367.23 903.58L1367.89 902.63L1368.56 901.67L1369.23 900.70L1369.89 899.74L1370.56 898.77L1371.23 897.80L1371.89 896.83L1372.56 895.85L1373.22 894.87L1373.89 893.89L1374.56 892.90L1375.22 891.92L1375.89 890.92L1376.56 889.93L1377.22 888.93L1377.89 887.93L1378.56 886.93L1379.22 885.93L1379.89 884.92L1380.55 883.91L1381.22 882.89L1381.89 881.88L1382.55 880.86L1383.22 879.84L1383.89 878.81L1384.55 877.78L1385.22 876.75L1385.89 875.72L1386.55 874.68L1387.22 873.64L1387.88 872.59L1388.55 871.55L1389.22 870.50L1389.88 869.44L1390.55 868.39L1391.22 867.33L1391.88 866.27L1392.55 865.20L1393.22 864.14L1393.88 863.06L1394.55 861.99L1395.21 860.91L1395.88 859.83L1396.55 858.75L1397.21 857.66L1397.88 856.57L1398.55 855.48L1399.21 854.38L1399.88 853.29L1400.55 852.18L1401.21 851.08L1401.88 849.97L1402.55 848.86L1403.21 847.74L1403.88 846.62L1404.54 845.50L1405.21 844.38L1405.88 843.25L1406.54 842.12L1407.21 840.98L1407.88 839.84L1408.54 838.70L1409.21 837.56L1409.88 836.41L1410.54 835.26L1411.21 834.11L1411.87 832.95L1412.54 831.79L1413.21 830.62L1413.87 829.45L1414.54 828.28L1415.21 827.11L1415.87 825.93L1416.54 824.75L1417.21 823.56L1417.87 822.37L1418.54 821.18L1419.20 819.99L1419.87 818.79L1420.54 817.58L1421.20 816.38L1421.87 815.17L1422.54 813.96L1423.20 812.74L1423.87 811.52L1424.54 810.30L1425.20 809.07L1425.87 807.84L1426.53 806.61L1427.20 805.37L1427.87 804.13L1428.53 802.88L1429.20 801.63" stroke="#f00"/>
</g>
<rect x="896.1" y="730.2" width="533.10" height="532.80" fill="none" stroke="#000" stroke-width="3.5"/>
<path d="M1162.65 1263.0v-7.7M1162.65 730.2v7.7" stroke="#000" stroke-width="3.5" fill="none"/>
<path d="M896.1 1100.20h7.7M1429.2 1100.20h-7.7M896.1 937.36h7.7M1429.2 937.36h-7.7M896.1 774.52h7.7M1429.2 774.52h-7.7" stroke="#000" stroke-width="3.5" fill="none"/>
<text transform="translate(896.10 1311.40) scale(0.963 1)" font-size="41.4" text-anchor="middle" font-family="Liberation Serif, serif" >0</text>
<text transform="translate(1162.65 1311.40) scale(0.963 1)" font-size="41.4" text-anchor="middle" font-family="Liberation Serif, serif" >0.5</text>
<text transform="translate(1429.20 1311.40) scale(0.963 1)" font-size="41.4" text-anchor="middle" font-family="Liberation Serif, serif" >1</text>
<text transform="translate(881.50 784.82) scale(0.963 1)" font-size="41.4" text-anchor="end" font-family="Liberation Serif, serif" >0.4</text>
<text transform="translate(881.50 947.66) scale(0.963 1)" font-size="41.4" text-anchor="end" font-family="Liberation Serif, serif" >0.2</text>
<text transform="translate(881.50 1110.50) scale(0.963 1)" font-size="41.4" text-anchor="end" font-family="Liberation Serif, serif" >0</text>
<text transform="translate(881.50 1273.34) scale(0.963 1)" font-size="41.4" text-anchor="end" font-family="Liberation Serif, serif" >-0.2</text>
<text transform="translate(1141.06 1364.57) scale(1.1700 1)" font-size="42.97" font-style="italic" font-family="Liberation Serif, serif">γ</text>
<text transform="translate(1163.58 1364.74) scale(1.0195 1)" font-size="45.77" font-style="italic" font-family="Liberation Serif, serif">θ</text>
<text transform="translate(793.70 1142.70) rotate(-90) scale(0.9995 1)" font-size="47.18" font-family="Liberation Serif, serif">Γ</text>
<text transform="translate(800.10 1115.51) rotate(-90) scale(0.9929 1)" font-size="30.00" font-family="Liberation Serif, serif">1</text>
<text transform="translate(797.96 1087.87) rotate(-90) scale(1.2366 1)" font-size="48.00" font-family="Liberation Serif, serif">−</text>
<text transform="translate(793.70 1045.11) rotate(-90) scale(1.0117 1)" font-size="47.18" font-family="Liberation Serif, serif">Γ</text>
<text transform="translate(800.09 1018.08) rotate(-90) scale(1.0424 1)" font-size="30.78" font-family="Liberation Serif, serif">CEM</text>
<text transform="translate(793.83 928.53) rotate(-90) scale(0.8353 1)" font-size="48.82" font-family="Liberation Serif, serif">(</text>
<text transform="translate(793.56 914.08) rotate(-90) scale(0.9612 1)" font-size="44.48" font-family="Liberation Serif, serif">fs</text>
<text transform="translate(778.00 885.02) rotate(-90) scale(1.0391 1)" font-size="29.89" font-family="Liberation Serif, serif">2</text>
<text transform="translate(793.83 866.43) rotate(-90) scale(0.8990 1)" font-size="48.82" font-family="Liberation Serif, serif">)</text>
</svg>
</body></html>
